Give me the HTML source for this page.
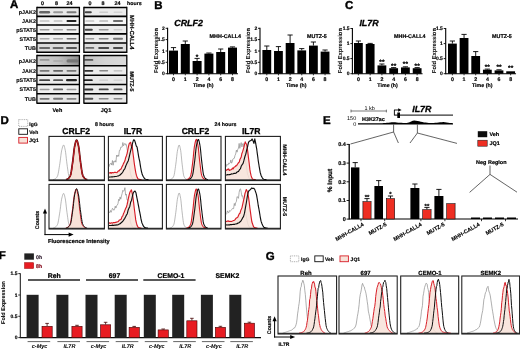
<!DOCTYPE html>
<html lang="en">
<head>
<meta charset="utf-8">
<title>Figure</title>
<style>
html,body{margin:0;padding:0;background:#fff;}
body{width:520px;height:349px;overflow:hidden;}
svg{display:block;font-family:"Liberation Sans", sans-serif;text-rendering:geometricPrecision;}
</style>
</head>
<body>
<svg width="520" height="349" viewBox="0 0 520 349">
<defs>
<filter id="soft" x="0" y="0" width="520" height="349" filterUnits="userSpaceOnUse"><feGaussianBlur stdDeviation="0.38"/></filter>
<filter id="bl" x="-20%" y="-100%" width="140%" height="300%"><feGaussianBlur stdDeviation="0.55 0.35"/></filter>
</defs>
<rect x="0" y="0" width="520" height="349" fill="#fff"/>
<g filter="url(#soft)">
<text x="0" y="0.0" transform="translate(10.00 8.20) scale(0.1)" font-size="115" font-weight="bold" text-anchor="start" fill="#000" stroke="#000" stroke-width="4.03">A</text>
<text x="0" y="19.3" transform="translate(42.60 3.30) scale(0.1)" font-size="54" font-weight="bold" text-anchor="middle" fill="#000" stroke="#000" stroke-width="1.89">0</text>
<text x="0" y="19.3" transform="translate(56.60 3.30) scale(0.1)" font-size="54" font-weight="bold" text-anchor="middle" fill="#000" stroke="#000" stroke-width="1.89">8</text>
<text x="0" y="19.3" transform="translate(69.60 3.30) scale(0.1)" font-size="54" font-weight="bold" text-anchor="middle" fill="#000" stroke="#000" stroke-width="1.89">24</text>
<text x="0" y="19.3" transform="translate(90.00 3.30) scale(0.1)" font-size="54" font-weight="bold" text-anchor="middle" fill="#000" stroke="#000" stroke-width="1.89">0</text>
<text x="0" y="19.3" transform="translate(103.00 3.30) scale(0.1)" font-size="54" font-weight="bold" text-anchor="middle" fill="#000" stroke="#000" stroke-width="1.89">8</text>
<text x="0" y="19.3" transform="translate(117.40 3.30) scale(0.1)" font-size="54" font-weight="bold" text-anchor="middle" fill="#000" stroke="#000" stroke-width="1.89">24</text>
<text x="0" y="19.0" transform="translate(127.00 3.30) scale(0.1)" font-size="53" font-weight="bold" text-anchor="start" fill="#000" stroke="#000" stroke-width="1.85">hours</text>
<text x="0" y="19.2" transform="translate(35.90 12.35) scale(0.1)" font-size="54" font-weight="bold" text-anchor="end" fill="#000" stroke="#000" stroke-width="1.07">pJAK2</text>
<text x="0" y="19.2" transform="translate(35.90 21.10) scale(0.1)" font-size="54" font-weight="bold" text-anchor="end" fill="#000" stroke="#000" stroke-width="1.07">JAK2</text>
<text x="0" y="19.2" transform="translate(35.90 29.85) scale(0.1)" font-size="54" font-weight="bold" text-anchor="end" fill="#000" stroke="#000" stroke-width="1.07">pSTAT5</text>
<text x="0" y="19.2" transform="translate(35.90 38.85) scale(0.1)" font-size="54" font-weight="bold" text-anchor="end" fill="#000" stroke="#000" stroke-width="1.07">STAT5</text>
<text x="0" y="19.2" transform="translate(35.90 48.55) scale(0.1)" font-size="54" font-weight="bold" text-anchor="end" fill="#000" stroke="#000" stroke-width="1.07">TUB</text>
<text x="0" y="19.2" transform="translate(35.90 61.05) scale(0.1)" font-size="54" font-weight="bold" text-anchor="end" fill="#000" stroke="#000" stroke-width="1.07">pJAK2</text>
<text x="0" y="19.2" transform="translate(35.90 70.90) scale(0.1)" font-size="54" font-weight="bold" text-anchor="end" fill="#000" stroke="#000" stroke-width="1.07">JAK2</text>
<text x="0" y="19.2" transform="translate(35.90 80.25) scale(0.1)" font-size="54" font-weight="bold" text-anchor="end" fill="#000" stroke="#000" stroke-width="1.07">pSTAT5</text>
<text x="0" y="19.2" transform="translate(35.90 89.55) scale(0.1)" font-size="54" font-weight="bold" text-anchor="end" fill="#000" stroke="#000" stroke-width="1.07">STAT5</text>
<text x="0" y="19.2" transform="translate(35.90 99.40) scale(0.1)" font-size="54" font-weight="bold" text-anchor="end" fill="#000" stroke="#000" stroke-width="1.07">TUB</text>
<text x="0" y="19.7" transform="translate(57.40 109.80) scale(0.1)" font-size="55" font-weight="bold" text-anchor="middle" fill="#000" stroke="#000" stroke-width="1.93">Veh</text>
<text x="0" y="19.7" transform="translate(106.00 109.80) scale(0.1)" font-size="55" font-weight="bold" text-anchor="middle" fill="#000" stroke="#000" stroke-width="1.93">JQ1</text>
<text x="0" y="21.1" transform="translate(132.40 32.30) rotate(90) scale(0.1)" font-size="59" font-weight="bold" text-anchor="middle" fill="#000" stroke="#000" stroke-width="2.07">MHH-CALL4</text>
<text x="0" y="19.3" transform="translate(131.80 81.50) rotate(90) scale(0.1)" font-size="54" font-weight="bold" text-anchor="middle" fill="#000" stroke="#000" stroke-width="1.89">MUTZ-5</text>
<g>
<rect x="36.90" y="7.50" width="42.50" height="8.90" fill="#e8e8e8"/>
<rect x="39.10" y="11.05" width="11" height="2.4" rx="1.2" fill="#666" filter="url(#bl)"/>
<rect x="53.10" y="11.25" width="10" height="2.0" rx="1.0" fill="#999" filter="url(#bl)"/>
<rect x="66.50" y="11.15" width="10" height="2.2" rx="1.1" fill="#7a7a7a" filter="url(#bl)"/>
<rect x="36.90" y="16.40" width="42.50" height="8.60" fill="#f5f5f5"/>
<rect x="39.60" y="20.40" width="10" height="1.2" rx="0.6" fill="#aaa" filter="url(#bl)"/>
<rect x="53.60" y="20.40" width="9" height="1.2" rx="0.6" fill="#aaa" filter="url(#bl)"/>
<rect x="66.50" y="20.10" width="10" height="1.8" rx="0.9" fill="#222" filter="url(#bl)"/>
<rect x="36.90" y="25.00" width="42.50" height="8.90" fill="#f1f1f1"/>
<rect x="39.60" y="29.05" width="10" height="1.4" rx="0.7" fill="#999" filter="url(#bl)"/>
<rect x="53.10" y="29.05" width="10" height="1.4" rx="0.7" fill="#aaa" filter="url(#bl)"/>
<rect x="66.50" y="29.00" width="10" height="1.5" rx="0.75" fill="#888" filter="url(#bl)"/>
<rect x="36.90" y="33.90" width="42.50" height="9.10" fill="#eeeeee"/>
<rect x="39.60" y="38.10" width="10" height="1.3" rx="0.65" fill="#aaa" filter="url(#bl)"/>
<rect x="53.10" y="38.10" width="10" height="1.3" rx="0.65" fill="#aaa" filter="url(#bl)"/>
<rect x="66.50" y="37.95" width="10" height="1.6" rx="0.8" fill="#777" filter="url(#bl)"/>
<rect x="36.90" y="43.00" width="42.50" height="9.30" fill="#dadada"/>
<rect x="39.10" y="47.00" width="11" height="1.9" rx="0.95" fill="#686868" filter="url(#bl)"/>
<rect x="52.60" y="47.00" width="11" height="1.9" rx="0.95" fill="#686868" filter="url(#bl)"/>
<rect x="66.00" y="46.90" width="11" height="2.1" rx="1.05" fill="#555" filter="url(#bl)"/>
<line x1="36.90" y1="7.50" x2="79.40" y2="7.50" stroke="#000" stroke-width="1.6"/>
<line x1="36.90" y1="16.40" x2="79.40" y2="16.40" stroke="#000" stroke-width="1.6"/>
<line x1="36.90" y1="25.00" x2="79.40" y2="25.00" stroke="#000" stroke-width="1.6"/>
<line x1="36.90" y1="33.90" x2="79.40" y2="33.90" stroke="#000" stroke-width="1.6"/>
<line x1="36.90" y1="43.00" x2="79.40" y2="43.00" stroke="#000" stroke-width="1.6"/>
<line x1="36.90" y1="52.30" x2="79.40" y2="52.30" stroke="#000" stroke-width="1.6"/>
<line x1="36.90" y1="6.85" x2="36.90" y2="52.95" stroke="#000" stroke-width="1.3"/>
<line x1="79.40" y1="6.85" x2="79.40" y2="52.95" stroke="#000" stroke-width="1.3"/>
</g>
<g>
<rect x="83.90" y="7.50" width="42.90" height="8.90" fill="#ebebeb"/>
<rect x="84.80" y="11.25" width="7" height="2.0" rx="1.0" fill="#444" filter="url(#bl)"/>
<rect x="99.20" y="11.50" width="9" height="1.5" rx="0.75" fill="#ccc" filter="url(#bl)"/>
<rect x="113.50" y="11.50" width="9" height="1.5" rx="0.75" fill="#d4d4d4" filter="url(#bl)"/>
<rect x="83.90" y="16.40" width="42.90" height="8.60" fill="#f6f6f6"/>
<rect x="85.30" y="20.45" width="9" height="1.1" rx="0.55" fill="#aaa" filter="url(#bl)"/>
<rect x="99.20" y="20.40" width="9" height="1.2" rx="0.6" fill="#999" filter="url(#bl)"/>
<rect x="113.00" y="20.20" width="10" height="1.6" rx="0.8" fill="#444" filter="url(#bl)"/>
<rect x="83.90" y="25.00" width="42.90" height="8.90" fill="#ececec"/>
<rect x="84.80" y="28.85" width="8" height="1.8" rx="0.9" fill="#444" filter="url(#bl)"/>
<rect x="98.70" y="29.00" width="10" height="1.5" rx="0.75" fill="#999" filter="url(#bl)"/>
<rect x="113.50" y="29.05" width="9" height="1.4" rx="0.7" fill="#ccc" filter="url(#bl)"/>
<rect x="83.90" y="33.90" width="42.90" height="9.10" fill="#ececec"/>
<rect x="85.30" y="38.10" width="9" height="1.3" rx="0.65" fill="#999" filter="url(#bl)"/>
<rect x="98.70" y="38.00" width="10" height="1.5" rx="0.75" fill="#888" filter="url(#bl)"/>
<rect x="113.00" y="37.85" width="10" height="1.8" rx="0.9" fill="#777" filter="url(#bl)"/>
<rect x="83.90" y="43.00" width="42.90" height="9.30" fill="#dedede"/>
<rect x="85.30" y="47.10" width="9" height="1.7" rx="0.85" fill="#686868" filter="url(#bl)"/>
<rect x="98.20" y="47.00" width="11" height="1.9" rx="0.95" fill="#484848" filter="url(#bl)"/>
<rect x="113.00" y="47.00" width="10" height="1.9" rx="0.95" fill="#484848" filter="url(#bl)"/>
<line x1="83.90" y1="7.50" x2="126.80" y2="7.50" stroke="#000" stroke-width="1.6"/>
<line x1="83.90" y1="16.40" x2="126.80" y2="16.40" stroke="#000" stroke-width="1.6"/>
<line x1="83.90" y1="25.00" x2="126.80" y2="25.00" stroke="#000" stroke-width="1.6"/>
<line x1="83.90" y1="33.90" x2="126.80" y2="33.90" stroke="#000" stroke-width="1.6"/>
<line x1="83.90" y1="43.00" x2="126.80" y2="43.00" stroke="#000" stroke-width="1.6"/>
<line x1="83.90" y1="52.30" x2="126.80" y2="52.30" stroke="#000" stroke-width="1.6"/>
<line x1="83.90" y1="6.85" x2="83.90" y2="52.95" stroke="#000" stroke-width="1.3"/>
<line x1="126.80" y1="6.85" x2="126.80" y2="52.95" stroke="#000" stroke-width="1.3"/>
</g>
<g>
<linearGradient id="g36_55" x1="0" x2="1" y1="0" y2="0"><stop offset="0" stop-color="#cfcfcf"/><stop offset="0.5" stop-color="#c2c2c2"/><stop offset="1" stop-color="#8e8e8e"/></linearGradient>
<rect x="36.90" y="55.50" width="42.50" height="10.30" fill="url(#g36_55)"/>
<rect x="39.60" y="59.05" width="10" height="1.8" rx="0.9" fill="#999" filter="url(#bl)"/>
<rect x="53.10" y="60.15" width="10" height="1.6" rx="0.8" fill="#aaa" filter="url(#bl)"/>
<rect x="66.50" y="59.35" width="12" height="3.2" rx="1.6" fill="#777" filter="url(#bl)"/>
<rect x="36.90" y="65.80" width="42.50" height="9.40" fill="#dedede"/>
<rect x="39.60" y="69.90" width="10" height="1.8" rx="0.9" fill="#777" filter="url(#bl)"/>
<rect x="53.10" y="69.90" width="10" height="1.8" rx="0.9" fill="#666" filter="url(#bl)"/>
<rect x="66.50" y="69.90" width="10" height="1.8" rx="0.9" fill="#777" filter="url(#bl)"/>
<rect x="36.90" y="75.20" width="42.50" height="9.30" fill="#ececec"/>
<rect x="39.10" y="79.20" width="11" height="1.9" rx="0.95" fill="#444" filter="url(#bl)"/>
<rect x="53.10" y="79.25" width="10" height="1.8" rx="0.9" fill="#555" filter="url(#bl)"/>
<rect x="66.00" y="79.05" width="11" height="2.2" rx="1.1" fill="#222" filter="url(#bl)"/>
<rect x="36.90" y="84.50" width="42.50" height="9.30" fill="#f0f0f0"/>
<rect x="39.60" y="88.75" width="10" height="1.4" rx="0.7" fill="#999" filter="url(#bl)"/>
<rect x="53.10" y="88.60" width="10" height="1.7" rx="0.85" fill="#666" filter="url(#bl)"/>
<rect x="66.50" y="88.75" width="10" height="1.4" rx="0.7" fill="#999" filter="url(#bl)"/>
<rect x="36.90" y="93.80" width="42.50" height="9.40" fill="#e6e6e6"/>
<rect x="39.60" y="97.95" width="10" height="1.7" rx="0.85" fill="#777" filter="url(#bl)"/>
<rect x="53.10" y="97.85" width="10" height="1.9" rx="0.95" fill="#777" filter="url(#bl)"/>
<rect x="66.50" y="97.95" width="10" height="1.7" rx="0.85" fill="#888" filter="url(#bl)"/>
<line x1="36.90" y1="55.50" x2="79.40" y2="55.50" stroke="#000" stroke-width="1.6"/>
<line x1="36.90" y1="65.80" x2="79.40" y2="65.80" stroke="#000" stroke-width="1.6"/>
<line x1="36.90" y1="75.20" x2="79.40" y2="75.20" stroke="#000" stroke-width="1.6"/>
<line x1="36.90" y1="84.50" x2="79.40" y2="84.50" stroke="#000" stroke-width="1.6"/>
<line x1="36.90" y1="93.80" x2="79.40" y2="93.80" stroke="#000" stroke-width="1.6"/>
<line x1="36.90" y1="103.20" x2="79.40" y2="103.20" stroke="#000" stroke-width="1.6"/>
<line x1="36.90" y1="54.85" x2="36.90" y2="103.85" stroke="#000" stroke-width="1.3"/>
<line x1="79.40" y1="54.85" x2="79.40" y2="103.85" stroke="#000" stroke-width="1.3"/>
</g>
<g>
<linearGradient id="g83_55" x1="0" x2="1" y1="0" y2="0"><stop offset="0" stop-color="#c4c4c4"/><stop offset="0.5" stop-color="#d4d4d4"/><stop offset="1" stop-color="#dadada"/></linearGradient>
<rect x="83.90" y="55.50" width="42.90" height="10.30" fill="url(#g83_55)"/>
<rect x="84.30" y="59.05" width="9" height="1.8" rx="0.9" fill="#555" filter="url(#bl)"/>
<rect x="83.90" y="65.80" width="42.90" height="9.40" fill="#ececec"/>
<rect x="84.30" y="69.90" width="9" height="1.8" rx="0.9" fill="#333" filter="url(#bl)"/>
<rect x="99.20" y="70.05" width="9" height="1.5" rx="0.75" fill="#888" filter="url(#bl)"/>
<rect x="113.50" y="70.15" width="9" height="1.3" rx="0.65" fill="#bbb" filter="url(#bl)"/>
<rect x="83.90" y="75.20" width="42.90" height="9.30" fill="#e8e8e8"/>
<rect x="83.80" y="79.20" width="9" height="1.9" rx="0.95" fill="#222" filter="url(#bl)"/>
<rect x="99.20" y="79.50" width="9" height="1.3" rx="0.65" fill="#ccc" filter="url(#bl)"/>
<rect x="113.50" y="79.50" width="9" height="1.3" rx="0.65" fill="#d0d0d0" filter="url(#bl)"/>
<rect x="83.90" y="84.50" width="42.90" height="9.30" fill="#ececec"/>
<rect x="84.30" y="88.50" width="9" height="1.9" rx="0.95" fill="#333" filter="url(#bl)"/>
<rect x="98.70" y="88.55" width="10" height="1.8" rx="0.9" fill="#444" filter="url(#bl)"/>
<rect x="113.50" y="88.60" width="9" height="1.7" rx="0.85" fill="#555" filter="url(#bl)"/>
<rect x="83.90" y="93.80" width="42.90" height="9.40" fill="#e8e8e8"/>
<rect x="84.30" y="97.85" width="9" height="1.9" rx="0.95" fill="#555" filter="url(#bl)"/>
<rect x="98.70" y="98.00" width="10" height="1.6" rx="0.8" fill="#888" filter="url(#bl)"/>
<rect x="113.50" y="98.00" width="9" height="1.6" rx="0.8" fill="#888" filter="url(#bl)"/>
<line x1="83.90" y1="55.50" x2="126.80" y2="55.50" stroke="#000" stroke-width="1.6"/>
<line x1="83.90" y1="65.80" x2="126.80" y2="65.80" stroke="#000" stroke-width="1.6"/>
<line x1="83.90" y1="75.20" x2="126.80" y2="75.20" stroke="#000" stroke-width="1.6"/>
<line x1="83.90" y1="84.50" x2="126.80" y2="84.50" stroke="#000" stroke-width="1.6"/>
<line x1="83.90" y1="93.80" x2="126.80" y2="93.80" stroke="#000" stroke-width="1.6"/>
<line x1="83.90" y1="103.20" x2="126.80" y2="103.20" stroke="#000" stroke-width="1.6"/>
<line x1="83.90" y1="54.85" x2="83.90" y2="103.85" stroke="#000" stroke-width="1.3"/>
<line x1="126.80" y1="54.85" x2="126.80" y2="103.85" stroke="#000" stroke-width="1.3"/>
</g>
<text x="0" y="0.0" transform="translate(154.30 9.00) scale(0.1)" font-size="115" font-weight="bold" text-anchor="start" fill="#000" stroke="#000" stroke-width="4.03">B</text>
<text x="0" y="0.0" transform="translate(174.20 25.70) scale(0.1)" font-size="89" font-weight="bold" font-style="italic" text-anchor="start" fill="#000" stroke="#000" stroke-width="3.12">CRLF2</text>
<line x1="167.60" y1="27.80" x2="167.60" y2="74.20" stroke="#000" stroke-width="1.1"/>
<line x1="165.60" y1="73.70" x2="167.60" y2="73.70" stroke="#000" stroke-width="0.9"/>
<text x="0" y="17.9" transform="translate(164.80 73.70) scale(0.1)" font-size="50" font-weight="bold" text-anchor="end" fill="#000" stroke="#000" stroke-width="1.75">0</text>
<line x1="165.60" y1="62.30" x2="167.60" y2="62.30" stroke="#000" stroke-width="0.9"/>
<text x="0" y="17.9" transform="translate(164.80 62.30) scale(0.1)" font-size="50" font-weight="bold" text-anchor="end" fill="#000" stroke="#000" stroke-width="1.75">0.5</text>
<line x1="165.60" y1="51.00" x2="167.60" y2="51.00" stroke="#000" stroke-width="0.9"/>
<text x="0" y="17.9" transform="translate(164.80 51.00) scale(0.1)" font-size="50" font-weight="bold" text-anchor="end" fill="#000" stroke="#000" stroke-width="1.75">1</text>
<line x1="165.60" y1="39.60" x2="167.60" y2="39.60" stroke="#000" stroke-width="0.9"/>
<text x="0" y="17.9" transform="translate(164.80 39.60) scale(0.1)" font-size="50" font-weight="bold" text-anchor="end" fill="#000" stroke="#000" stroke-width="1.75">1.5</text>
<line x1="165.60" y1="28.30" x2="167.60" y2="28.30" stroke="#000" stroke-width="0.9"/>
<text x="0" y="17.9" transform="translate(164.80 28.30) scale(0.1)" font-size="50" font-weight="bold" text-anchor="end" fill="#000" stroke="#000" stroke-width="1.75">2</text>
<line x1="167.60" y1="73.70" x2="238.00" y2="73.70" stroke="#000" stroke-width="1.1"/>
<rect x="169.00" y="50.60" width="9.00" height="23.10" fill="#000"/>
<line x1="173.50" y1="47.60" x2="173.50" y2="50.60" stroke="#000" stroke-width="0.9"/>
<line x1="170.90" y1="47.60" x2="176.10" y2="47.60" stroke="#000" stroke-width="0.9"/>
<line x1="173.50" y1="73.70" x2="173.50" y2="75.30" stroke="#000" stroke-width="0.8"/>
<text x="0" y="19.0" transform="translate(173.50 78.70) scale(0.1)" font-size="53" font-weight="bold" text-anchor="middle" fill="#000" stroke="#000" stroke-width="1.85">0</text>
<rect x="180.80" y="44.00" width="9.00" height="29.70" fill="#000"/>
<line x1="185.30" y1="41.00" x2="185.30" y2="44.00" stroke="#000" stroke-width="0.9"/>
<line x1="182.70" y1="41.00" x2="187.90" y2="41.00" stroke="#000" stroke-width="0.9"/>
<line x1="185.30" y1="73.70" x2="185.30" y2="75.30" stroke="#000" stroke-width="0.8"/>
<text x="0" y="19.0" transform="translate(185.30 78.70) scale(0.1)" font-size="53" font-weight="bold" text-anchor="middle" fill="#000" stroke="#000" stroke-width="1.85">1</text>
<rect x="192.60" y="61.00" width="9.00" height="12.70" fill="#000"/>
<line x1="197.10" y1="58.40" x2="197.10" y2="61.00" stroke="#000" stroke-width="0.9"/>
<line x1="194.50" y1="58.40" x2="199.70" y2="58.40" stroke="#000" stroke-width="0.9"/>
<text x="0" y="23.3" transform="translate(197.10 56.30) scale(0.1)" font-size="65" font-weight="bold" text-anchor="middle" fill="#000" stroke="#000" stroke-width="2.28">*</text>
<line x1="197.10" y1="73.70" x2="197.10" y2="75.30" stroke="#000" stroke-width="0.8"/>
<text x="0" y="19.0" transform="translate(197.10 78.70) scale(0.1)" font-size="53" font-weight="bold" text-anchor="middle" fill="#000" stroke="#000" stroke-width="1.85">2</text>
<rect x="204.40" y="53.60" width="9.00" height="20.10" fill="#000"/>
<line x1="208.90" y1="53.00" x2="208.90" y2="53.60" stroke="#000" stroke-width="0.9"/>
<line x1="206.30" y1="53.00" x2="211.50" y2="53.00" stroke="#000" stroke-width="0.9"/>
<line x1="208.90" y1="73.70" x2="208.90" y2="75.30" stroke="#000" stroke-width="0.8"/>
<text x="0" y="19.0" transform="translate(208.90 78.70) scale(0.1)" font-size="53" font-weight="bold" text-anchor="middle" fill="#000" stroke="#000" stroke-width="1.85">4</text>
<rect x="216.20" y="52.00" width="9.00" height="21.70" fill="#000"/>
<line x1="220.70" y1="49.00" x2="220.70" y2="52.00" stroke="#000" stroke-width="0.9"/>
<line x1="218.10" y1="49.00" x2="223.30" y2="49.00" stroke="#000" stroke-width="0.9"/>
<line x1="220.70" y1="73.70" x2="220.70" y2="75.30" stroke="#000" stroke-width="0.8"/>
<text x="0" y="19.0" transform="translate(220.70 78.70) scale(0.1)" font-size="53" font-weight="bold" text-anchor="middle" fill="#000" stroke="#000" stroke-width="1.85">6</text>
<rect x="228.00" y="47.60" width="9.00" height="26.10" fill="#000"/>
<line x1="232.50" y1="46.90" x2="232.50" y2="47.60" stroke="#000" stroke-width="0.9"/>
<line x1="229.90" y1="46.90" x2="235.10" y2="46.90" stroke="#000" stroke-width="0.9"/>
<line x1="232.50" y1="73.70" x2="232.50" y2="75.30" stroke="#000" stroke-width="0.8"/>
<text x="0" y="19.0" transform="translate(232.50 78.70) scale(0.1)" font-size="53" font-weight="bold" text-anchor="middle" fill="#000" stroke="#000" stroke-width="1.85">8</text>
<text x="0" y="19.0" transform="translate(203.20 85.50) scale(0.1)" font-size="53" font-weight="bold" text-anchor="middle" fill="#000" stroke="#000" stroke-width="1.85">Time (h)</text>
<text x="0" y="19.3" transform="translate(209.60 35.90) scale(0.1)" font-size="54" font-weight="bold" text-anchor="start" fill="#000" stroke="#000" stroke-width="1.89">MHH-CALL4</text>
<text x="0" y="20.6" transform="translate(156.40 50.50) rotate(-90) scale(0.1)" font-size="58" font-weight="bold" text-anchor="middle" fill="#000" stroke="#000" stroke-width="0.58">Fold Expression</text>
<line x1="260.00" y1="27.80" x2="260.00" y2="74.20" stroke="#000" stroke-width="1.1"/>
<line x1="258.00" y1="73.70" x2="260.00" y2="73.70" stroke="#000" stroke-width="0.9"/>
<text x="0" y="17.9" transform="translate(257.20 73.70) scale(0.1)" font-size="50" font-weight="bold" text-anchor="end" fill="#000" stroke="#000" stroke-width="1.75">0</text>
<line x1="258.00" y1="62.30" x2="260.00" y2="62.30" stroke="#000" stroke-width="0.9"/>
<text x="0" y="17.9" transform="translate(257.20 62.30) scale(0.1)" font-size="50" font-weight="bold" text-anchor="end" fill="#000" stroke="#000" stroke-width="1.75">0.5</text>
<line x1="258.00" y1="51.00" x2="260.00" y2="51.00" stroke="#000" stroke-width="0.9"/>
<text x="0" y="17.9" transform="translate(257.20 51.00) scale(0.1)" font-size="50" font-weight="bold" text-anchor="end" fill="#000" stroke="#000" stroke-width="1.75">1</text>
<line x1="258.00" y1="39.60" x2="260.00" y2="39.60" stroke="#000" stroke-width="0.9"/>
<text x="0" y="17.9" transform="translate(257.20 39.60) scale(0.1)" font-size="50" font-weight="bold" text-anchor="end" fill="#000" stroke="#000" stroke-width="1.75">1.5</text>
<line x1="258.00" y1="28.30" x2="260.00" y2="28.30" stroke="#000" stroke-width="0.9"/>
<text x="0" y="17.9" transform="translate(257.20 28.30) scale(0.1)" font-size="50" font-weight="bold" text-anchor="end" fill="#000" stroke="#000" stroke-width="1.75">2</text>
<line x1="260.00" y1="73.70" x2="330.45" y2="73.70" stroke="#000" stroke-width="1.1"/>
<rect x="262.40" y="50.00" width="8.80" height="23.70" fill="#000"/>
<line x1="266.80" y1="46.00" x2="266.80" y2="50.00" stroke="#000" stroke-width="0.9"/>
<line x1="264.20" y1="46.00" x2="269.40" y2="46.00" stroke="#000" stroke-width="0.9"/>
<line x1="266.80" y1="73.70" x2="266.80" y2="75.30" stroke="#000" stroke-width="0.8"/>
<text x="0" y="19.0" transform="translate(266.80 78.70) scale(0.1)" font-size="53" font-weight="bold" text-anchor="middle" fill="#000" stroke="#000" stroke-width="1.85">0</text>
<rect x="274.05" y="51.00" width="8.80" height="22.70" fill="#000"/>
<line x1="278.45" y1="46.60" x2="278.45" y2="51.00" stroke="#000" stroke-width="0.9"/>
<line x1="275.85" y1="46.60" x2="281.05" y2="46.60" stroke="#000" stroke-width="0.9"/>
<line x1="278.45" y1="73.70" x2="278.45" y2="75.30" stroke="#000" stroke-width="0.8"/>
<text x="0" y="19.0" transform="translate(278.45 78.70) scale(0.1)" font-size="53" font-weight="bold" text-anchor="middle" fill="#000" stroke="#000" stroke-width="1.85">1</text>
<rect x="285.70" y="43.00" width="8.80" height="30.70" fill="#000"/>
<line x1="290.10" y1="35.00" x2="290.10" y2="43.00" stroke="#000" stroke-width="0.9"/>
<line x1="287.50" y1="35.00" x2="292.70" y2="35.00" stroke="#000" stroke-width="0.9"/>
<line x1="290.10" y1="73.70" x2="290.10" y2="75.30" stroke="#000" stroke-width="0.8"/>
<text x="0" y="19.0" transform="translate(290.10 78.70) scale(0.1)" font-size="53" font-weight="bold" text-anchor="middle" fill="#000" stroke="#000" stroke-width="1.85">2</text>
<rect x="297.35" y="50.40" width="8.80" height="23.30" fill="#000"/>
<line x1="301.75" y1="48.60" x2="301.75" y2="50.40" stroke="#000" stroke-width="0.9"/>
<line x1="299.15" y1="48.60" x2="304.35" y2="48.60" stroke="#000" stroke-width="0.9"/>
<line x1="301.75" y1="73.70" x2="301.75" y2="75.30" stroke="#000" stroke-width="0.8"/>
<text x="0" y="19.0" transform="translate(301.75 78.70) scale(0.1)" font-size="53" font-weight="bold" text-anchor="middle" fill="#000" stroke="#000" stroke-width="1.85">4</text>
<rect x="309.00" y="45.60" width="8.80" height="28.10" fill="#000"/>
<line x1="313.40" y1="42.00" x2="313.40" y2="45.60" stroke="#000" stroke-width="0.9"/>
<line x1="310.80" y1="42.00" x2="316.00" y2="42.00" stroke="#000" stroke-width="0.9"/>
<line x1="313.40" y1="73.70" x2="313.40" y2="75.30" stroke="#000" stroke-width="0.8"/>
<text x="0" y="19.0" transform="translate(313.40 78.70) scale(0.1)" font-size="53" font-weight="bold" text-anchor="middle" fill="#000" stroke="#000" stroke-width="1.85">6</text>
<rect x="320.65" y="51.60" width="8.80" height="22.10" fill="#000"/>
<line x1="325.05" y1="50.00" x2="325.05" y2="51.60" stroke="#000" stroke-width="0.9"/>
<line x1="322.45" y1="50.00" x2="327.65" y2="50.00" stroke="#000" stroke-width="0.9"/>
<line x1="325.05" y1="73.70" x2="325.05" y2="75.30" stroke="#000" stroke-width="0.8"/>
<text x="0" y="19.0" transform="translate(325.05 78.70) scale(0.1)" font-size="53" font-weight="bold" text-anchor="middle" fill="#000" stroke="#000" stroke-width="1.85">8</text>
<text x="0" y="19.0" transform="translate(296.20 85.50) scale(0.1)" font-size="53" font-weight="bold" text-anchor="middle" fill="#000" stroke="#000" stroke-width="1.85">Time (h)</text>
<text x="0" y="19.3" transform="translate(307.00 35.90) scale(0.1)" font-size="54" font-weight="bold" text-anchor="start" fill="#000" stroke="#000" stroke-width="1.89">MUTZ-5</text>
<text x="0" y="20.6" transform="translate(247.60 50.50) rotate(-90) scale(0.1)" font-size="58" font-weight="bold" text-anchor="middle" fill="#000" stroke="#000" stroke-width="0.58">Fold Expression</text>
<text x="0" y="0.0" transform="translate(345.00 9.00) scale(0.1)" font-size="115" font-weight="bold" text-anchor="start" fill="#000" stroke="#000" stroke-width="4.03">C</text>
<text x="0" y="0.0" transform="translate(359.40 25.70) scale(0.1)" font-size="89" font-weight="bold" font-style="italic" text-anchor="start" fill="#000" stroke="#000" stroke-width="3.12">IL7R</text>
<line x1="352.40" y1="28.00" x2="352.40" y2="74.20" stroke="#000" stroke-width="1.1"/>
<line x1="350.40" y1="73.70" x2="352.40" y2="73.70" stroke="#000" stroke-width="0.9"/>
<text x="0" y="17.9" transform="translate(349.60 73.70) scale(0.1)" font-size="50" font-weight="bold" text-anchor="end" fill="#000" stroke="#000" stroke-width="1.75">0</text>
<line x1="350.40" y1="58.60" x2="352.40" y2="58.60" stroke="#000" stroke-width="0.9"/>
<text x="0" y="17.9" transform="translate(349.60 58.60) scale(0.1)" font-size="50" font-weight="bold" text-anchor="end" fill="#000" stroke="#000" stroke-width="1.75">0.5</text>
<line x1="350.40" y1="43.60" x2="352.40" y2="43.60" stroke="#000" stroke-width="0.9"/>
<text x="0" y="17.9" transform="translate(349.60 43.60) scale(0.1)" font-size="50" font-weight="bold" text-anchor="end" fill="#000" stroke="#000" stroke-width="1.75">1</text>
<line x1="350.40" y1="28.50" x2="352.40" y2="28.50" stroke="#000" stroke-width="0.9"/>
<text x="0" y="17.9" transform="translate(349.60 28.50) scale(0.1)" font-size="50" font-weight="bold" text-anchor="end" fill="#000" stroke="#000" stroke-width="1.75">1.5</text>
<line x1="352.40" y1="73.70" x2="422.55" y2="73.70" stroke="#000" stroke-width="1.1"/>
<rect x="354.00" y="43.00" width="8.80" height="30.70" fill="#000"/>
<line x1="358.40" y1="41.00" x2="358.40" y2="43.00" stroke="#000" stroke-width="0.9"/>
<line x1="355.80" y1="41.00" x2="361.00" y2="41.00" stroke="#000" stroke-width="0.9"/>
<line x1="358.40" y1="73.70" x2="358.40" y2="75.30" stroke="#000" stroke-width="0.8"/>
<text x="0" y="19.0" transform="translate(358.40 78.70) scale(0.1)" font-size="53" font-weight="bold" text-anchor="middle" fill="#000" stroke="#000" stroke-width="1.85">0</text>
<rect x="365.75" y="44.00" width="8.80" height="29.70" fill="#000"/>
<line x1="370.15" y1="43.40" x2="370.15" y2="44.00" stroke="#000" stroke-width="0.9"/>
<line x1="367.55" y1="43.40" x2="372.75" y2="43.40" stroke="#000" stroke-width="0.9"/>
<line x1="370.15" y1="73.70" x2="370.15" y2="75.30" stroke="#000" stroke-width="0.8"/>
<text x="0" y="19.0" transform="translate(370.15 78.70) scale(0.1)" font-size="53" font-weight="bold" text-anchor="middle" fill="#000" stroke="#000" stroke-width="1.85">1</text>
<rect x="377.50" y="65.40" width="8.80" height="8.30" fill="#000"/>
<line x1="381.90" y1="64.00" x2="381.90" y2="65.40" stroke="#000" stroke-width="0.9"/>
<line x1="379.30" y1="64.00" x2="384.50" y2="64.00" stroke="#000" stroke-width="0.9"/>
<text x="0" y="23.3" transform="translate(381.90 61.30) scale(0.1)" font-size="65" font-weight="bold" text-anchor="middle" fill="#000" stroke="#000" stroke-width="2.28">**</text>
<line x1="381.90" y1="73.70" x2="381.90" y2="75.30" stroke="#000" stroke-width="0.8"/>
<text x="0" y="19.0" transform="translate(381.90 78.70) scale(0.1)" font-size="53" font-weight="bold" text-anchor="middle" fill="#000" stroke="#000" stroke-width="1.85">2</text>
<rect x="389.25" y="68.20" width="8.80" height="5.50" fill="#000"/>
<line x1="393.65" y1="67.60" x2="393.65" y2="68.20" stroke="#000" stroke-width="0.9"/>
<line x1="391.05" y1="67.60" x2="396.25" y2="67.60" stroke="#000" stroke-width="0.9"/>
<text x="0" y="23.3" transform="translate(393.65 65.70) scale(0.1)" font-size="65" font-weight="bold" text-anchor="middle" fill="#000" stroke="#000" stroke-width="2.28">**</text>
<line x1="393.65" y1="73.70" x2="393.65" y2="75.30" stroke="#000" stroke-width="0.8"/>
<text x="0" y="19.0" transform="translate(393.65 78.70) scale(0.1)" font-size="53" font-weight="bold" text-anchor="middle" fill="#000" stroke="#000" stroke-width="1.85">4</text>
<rect x="401.00" y="67.40" width="8.80" height="6.30" fill="#000"/>
<line x1="405.40" y1="66.80" x2="405.40" y2="67.40" stroke="#000" stroke-width="0.9"/>
<line x1="402.80" y1="66.80" x2="408.00" y2="66.80" stroke="#000" stroke-width="0.9"/>
<text x="0" y="23.3" transform="translate(405.40 63.90) scale(0.1)" font-size="65" font-weight="bold" text-anchor="middle" fill="#000" stroke="#000" stroke-width="2.28">**</text>
<line x1="405.40" y1="73.70" x2="405.40" y2="75.30" stroke="#000" stroke-width="0.8"/>
<text x="0" y="19.0" transform="translate(405.40 78.70) scale(0.1)" font-size="53" font-weight="bold" text-anchor="middle" fill="#000" stroke="#000" stroke-width="1.85">6</text>
<rect x="412.75" y="68.20" width="8.80" height="5.50" fill="#000"/>
<line x1="417.15" y1="67.60" x2="417.15" y2="68.20" stroke="#000" stroke-width="0.9"/>
<line x1="414.55" y1="67.60" x2="419.75" y2="67.60" stroke="#000" stroke-width="0.9"/>
<text x="0" y="23.3" transform="translate(417.15 65.70) scale(0.1)" font-size="65" font-weight="bold" text-anchor="middle" fill="#000" stroke="#000" stroke-width="2.28">**</text>
<line x1="417.15" y1="73.70" x2="417.15" y2="75.30" stroke="#000" stroke-width="0.8"/>
<text x="0" y="19.0" transform="translate(417.15 78.70) scale(0.1)" font-size="53" font-weight="bold" text-anchor="middle" fill="#000" stroke="#000" stroke-width="1.85">8</text>
<text x="0" y="19.0" transform="translate(387.60 85.50) scale(0.1)" font-size="53" font-weight="bold" text-anchor="middle" fill="#000" stroke="#000" stroke-width="1.85">Time (h)</text>
<text x="0" y="19.3" transform="translate(394.00 35.90) scale(0.1)" font-size="54" font-weight="bold" text-anchor="start" fill="#000" stroke="#000" stroke-width="1.89">MHH-CALL4</text>
<text x="0" y="20.6" transform="translate(340.40 50.60) rotate(-90) scale(0.1)" font-size="58" font-weight="bold" text-anchor="middle" fill="#000" stroke="#000" stroke-width="0.58">Fold Expression</text>
<line x1="445.70" y1="28.00" x2="445.70" y2="74.20" stroke="#000" stroke-width="1.1"/>
<line x1="443.70" y1="73.70" x2="445.70" y2="73.70" stroke="#000" stroke-width="0.9"/>
<text x="0" y="17.9" transform="translate(442.90 73.70) scale(0.1)" font-size="50" font-weight="bold" text-anchor="end" fill="#000" stroke="#000" stroke-width="1.75">0</text>
<line x1="443.70" y1="58.60" x2="445.70" y2="58.60" stroke="#000" stroke-width="0.9"/>
<text x="0" y="17.9" transform="translate(442.90 58.60) scale(0.1)" font-size="50" font-weight="bold" text-anchor="end" fill="#000" stroke="#000" stroke-width="1.75">0.5</text>
<line x1="443.70" y1="43.60" x2="445.70" y2="43.60" stroke="#000" stroke-width="0.9"/>
<text x="0" y="17.9" transform="translate(442.90 43.60) scale(0.1)" font-size="50" font-weight="bold" text-anchor="end" fill="#000" stroke="#000" stroke-width="1.75">1</text>
<line x1="443.70" y1="28.50" x2="445.70" y2="28.50" stroke="#000" stroke-width="0.9"/>
<text x="0" y="17.9" transform="translate(442.90 28.50) scale(0.1)" font-size="50" font-weight="bold" text-anchor="end" fill="#000" stroke="#000" stroke-width="1.75">1.5</text>
<line x1="445.70" y1="73.70" x2="516.05" y2="73.70" stroke="#000" stroke-width="1.1"/>
<rect x="448.00" y="43.60" width="8.80" height="30.10" fill="#000"/>
<line x1="452.40" y1="41.00" x2="452.40" y2="43.60" stroke="#000" stroke-width="0.9"/>
<line x1="449.80" y1="41.00" x2="455.00" y2="41.00" stroke="#000" stroke-width="0.9"/>
<line x1="452.40" y1="73.70" x2="452.40" y2="75.30" stroke="#000" stroke-width="0.8"/>
<text x="0" y="19.0" transform="translate(452.40 78.70) scale(0.1)" font-size="53" font-weight="bold" text-anchor="middle" fill="#000" stroke="#000" stroke-width="1.85">0</text>
<rect x="459.65" y="38.00" width="8.80" height="35.70" fill="#000"/>
<line x1="464.05" y1="34.40" x2="464.05" y2="38.00" stroke="#000" stroke-width="0.9"/>
<line x1="461.45" y1="34.40" x2="466.65" y2="34.40" stroke="#000" stroke-width="0.9"/>
<line x1="464.05" y1="73.70" x2="464.05" y2="75.30" stroke="#000" stroke-width="0.8"/>
<text x="0" y="19.0" transform="translate(464.05 78.70) scale(0.1)" font-size="53" font-weight="bold" text-anchor="middle" fill="#000" stroke="#000" stroke-width="1.85">1</text>
<rect x="471.30" y="56.00" width="8.80" height="17.70" fill="#000"/>
<line x1="475.70" y1="51.60" x2="475.70" y2="56.00" stroke="#000" stroke-width="0.9"/>
<line x1="473.10" y1="51.60" x2="478.30" y2="51.60" stroke="#000" stroke-width="0.9"/>
<line x1="475.70" y1="73.70" x2="475.70" y2="75.30" stroke="#000" stroke-width="0.8"/>
<text x="0" y="19.0" transform="translate(475.70 78.70) scale(0.1)" font-size="53" font-weight="bold" text-anchor="middle" fill="#000" stroke="#000" stroke-width="1.85">2</text>
<rect x="482.95" y="69.70" width="8.80" height="4.00" fill="#000"/>
<line x1="487.35" y1="69.10" x2="487.35" y2="69.70" stroke="#000" stroke-width="0.9"/>
<line x1="484.75" y1="69.10" x2="489.95" y2="69.10" stroke="#000" stroke-width="0.9"/>
<text x="0" y="23.3" transform="translate(487.35 66.70) scale(0.1)" font-size="65" font-weight="bold" text-anchor="middle" fill="#000" stroke="#000" stroke-width="2.28">**</text>
<line x1="487.35" y1="73.70" x2="487.35" y2="75.30" stroke="#000" stroke-width="0.8"/>
<text x="0" y="19.0" transform="translate(487.35 78.70) scale(0.1)" font-size="53" font-weight="bold" text-anchor="middle" fill="#000" stroke="#000" stroke-width="1.85">4</text>
<rect x="494.60" y="70.40" width="8.80" height="3.30" fill="#000"/>
<line x1="499.00" y1="69.80" x2="499.00" y2="70.40" stroke="#000" stroke-width="0.9"/>
<line x1="496.40" y1="69.80" x2="501.60" y2="69.80" stroke="#000" stroke-width="0.9"/>
<text x="0" y="23.3" transform="translate(499.00 66.70) scale(0.1)" font-size="65" font-weight="bold" text-anchor="middle" fill="#000" stroke="#000" stroke-width="2.28">**</text>
<line x1="499.00" y1="73.70" x2="499.00" y2="75.30" stroke="#000" stroke-width="0.8"/>
<text x="0" y="19.0" transform="translate(499.00 78.70) scale(0.1)" font-size="53" font-weight="bold" text-anchor="middle" fill="#000" stroke="#000" stroke-width="1.85">6</text>
<rect x="506.25" y="71.30" width="8.80" height="2.40" fill="#000"/>
<text x="0" y="23.3" transform="translate(510.65 67.90) scale(0.1)" font-size="65" font-weight="bold" text-anchor="middle" fill="#000" stroke="#000" stroke-width="2.28">**</text>
<line x1="510.65" y1="73.70" x2="510.65" y2="75.30" stroke="#000" stroke-width="0.8"/>
<text x="0" y="19.0" transform="translate(510.65 78.70) scale(0.1)" font-size="53" font-weight="bold" text-anchor="middle" fill="#000" stroke="#000" stroke-width="1.85">8</text>
<text x="0" y="19.0" transform="translate(482.20 85.50) scale(0.1)" font-size="53" font-weight="bold" text-anchor="middle" fill="#000" stroke="#000" stroke-width="1.85">Time (h)</text>
<text x="0" y="19.3" transform="translate(492.00 35.90) scale(0.1)" font-size="54" font-weight="bold" text-anchor="start" fill="#000" stroke="#000" stroke-width="1.89">MUTZ-5</text>
<text x="0" y="20.6" transform="translate(433.60 50.60) rotate(-90) scale(0.1)" font-size="58" font-weight="bold" text-anchor="middle" fill="#000" stroke="#000" stroke-width="0.58">Fold Expression</text>
<text x="0" y="0.0" transform="translate(0.40 123.60) scale(0.1)" font-size="115" font-weight="bold" text-anchor="start" fill="#000" stroke="#000" stroke-width="4.03">D</text>
<rect x="18.7" y="119.6" width="9.0" height="6.8" fill="#fff" stroke="#8c8c8c" stroke-width="0.7" stroke-dasharray="1 0.8"/>
<rect x="18.8" y="128.8" width="8.7" height="5.5" fill="#fff" stroke="#111" stroke-width="0.9"/>
<rect x="18.8" y="137.4" width="8.7" height="5.7" fill="#f7e2d8" stroke="#d81e28" stroke-width="0.9"/>
<text x="0" y="17.9" transform="translate(29.30 123.90) scale(0.1)" font-size="50" font-weight="bold" text-anchor="start" fill="#000" stroke="#000" stroke-width="1.75">IgG</text>
<text x="0" y="17.9" transform="translate(29.30 131.80) scale(0.1)" font-size="50" font-weight="bold" text-anchor="start" fill="#000" stroke="#000" stroke-width="1.75">Veh</text>
<text x="0" y="17.9" transform="translate(29.30 140.40) scale(0.1)" font-size="50" font-weight="bold" text-anchor="start" fill="#000" stroke="#000" stroke-width="1.75">JQ1</text>
<text x="0" y="19.0" transform="translate(104.50 124.20) scale(0.1)" font-size="53" font-weight="bold" text-anchor="middle" fill="#000" stroke="#000" stroke-width="1.85">8 hours</text>
<text x="0" y="19.0" transform="translate(225.50 124.20) scale(0.1)" font-size="53" font-weight="bold" text-anchor="middle" fill="#000" stroke="#000" stroke-width="1.85">24 hours</text>
<text x="0" y="0.0" transform="translate(76.20 134.40) scale(0.1)" font-size="86" font-weight="bold" text-anchor="middle" fill="#000" stroke="#000" stroke-width="3.01">CRLF2</text>
<text x="0" y="0.0" transform="translate(133.00 134.40) scale(0.1)" font-size="86" font-weight="bold" text-anchor="middle" fill="#000" stroke="#000" stroke-width="3.01">IL7R</text>
<text x="0" y="0.0" transform="translate(195.50 134.40) scale(0.1)" font-size="86" font-weight="bold" text-anchor="middle" fill="#000" stroke="#000" stroke-width="3.01">CRLF2</text>
<text x="0" y="0.0" transform="translate(251.20 134.40) scale(0.1)" font-size="86" font-weight="bold" text-anchor="middle" fill="#000" stroke="#000" stroke-width="3.01">IL7R</text>
<text x="0" y="19.0" transform="translate(284.60 160.00) rotate(90) scale(0.1)" font-size="53" font-weight="bold" text-anchor="middle" fill="#000" stroke="#000" stroke-width="1.85">MHH-CALL4</text>
<text x="0" y="19.0" transform="translate(284.60 206.50) rotate(90) scale(0.1)" font-size="53" font-weight="bold" text-anchor="middle" fill="#000" stroke="#000" stroke-width="1.85">MUTZ-5</text>
<clipPath id="cd00"><rect x="49.0" y="136.4" width="55.400000000000006" height="44.19999999999999"/></clipPath>
<g clip-path="url(#cd00)">
<path d="M53.10 179.60 L53.44 179.57 L53.78 179.50 L54.12 179.38 L54.46 179.23 L54.79 179.07 L55.13 178.89 L55.47 178.68 L55.81 178.42 L56.15 178.09 L56.49 177.70 L56.83 177.24 L57.17 176.70 L57.51 176.09 L57.85 175.12 L58.18 173.68 L58.52 171.88 L58.86 169.84 L59.20 167.67 L59.54 165.49 L59.88 163.37 L60.22 160.92 L60.56 158.19 L60.90 155.44 L61.24 152.93 L61.57 150.89 L61.91 149.46 L62.25 148.12 L62.59 146.90 L62.93 145.91 L63.27 145.24 L63.61 145.00 L63.95 145.33 L64.29 146.20 L64.63 147.44 L64.96 148.90 L65.30 150.44 L65.64 152.59 L65.98 155.41 L66.32 158.52 L66.66 161.57 L67.00 164.19 L67.34 166.62 L67.68 169.10 L68.02 171.46 L68.35 173.55 L68.69 175.18 L69.03 176.21 L69.37 176.88 L69.71 177.46 L70.05 177.95 L70.39 178.35 L70.73 178.66 L71.07 178.89 L71.41 179.07 L71.74 179.24 L72.08 179.38 L72.42 179.50 L72.76 179.57 L73.10 179.60" fill="none" stroke="#8c8c8c" stroke-width="0.6" stroke-linejoin="round"/>
<path d="M66.10 179.60 L66.46 179.57 L66.81 179.47 L67.17 179.33 L67.52 179.15 L67.88 178.94 L68.24 178.73 L68.59 178.46 L68.95 178.11 L69.30 177.69 L69.66 177.19 L70.02 176.59 L70.37 175.90 L70.73 174.96 L71.08 173.41 L71.44 171.37 L71.79 169.00 L72.15 166.43 L72.51 163.82 L72.86 161.29 L73.22 158.38 L73.57 155.12 L73.93 151.86 L74.29 148.92 L74.64 146.62 L75.00 144.98 L75.35 143.41 L75.71 142.03 L76.07 140.98 L76.42 140.38 L76.78 140.38 L77.13 140.98 L77.49 142.03 L77.85 143.41 L78.20 144.98 L78.56 146.62 L78.91 148.92 L79.27 151.86 L79.63 155.12 L79.98 158.38 L80.34 161.29 L80.69 163.82 L81.05 166.43 L81.41 169.00 L81.76 171.37 L82.12 173.41 L82.47 174.96 L82.83 175.90 L83.18 176.59 L83.54 177.19 L83.90 177.69 L84.25 178.11 L84.61 178.46 L84.96 178.73 L85.32 178.94 L85.68 179.15 L86.03 179.33 L86.39 179.47 L86.74 179.57 L87.10 179.60 L87.10 179.60 L66.10 179.60 Z" fill="#f7e2d8" stroke="none"/>
<path d="M66.10 179.60 L66.46 179.57 L66.81 179.47 L67.17 179.33 L67.52 179.15 L67.88 178.94 L68.24 178.73 L68.59 178.46 L68.95 178.11 L69.30 177.69 L69.66 177.19 L70.02 176.59 L70.37 175.90 L70.73 174.96 L71.08 173.41 L71.44 171.37 L71.79 169.00 L72.15 166.43 L72.51 163.82 L72.86 161.29 L73.22 158.38 L73.57 155.12 L73.93 151.86 L74.29 148.92 L74.64 146.62 L75.00 144.98 L75.35 143.41 L75.71 142.03 L76.07 140.98 L76.42 140.38 L76.78 140.38 L77.13 140.98 L77.49 142.03 L77.85 143.41 L78.20 144.98 L78.56 146.62 L78.91 148.92 L79.27 151.86 L79.63 155.12 L79.98 158.38 L80.34 161.29 L80.69 163.82 L81.05 166.43 L81.41 169.00 L81.76 171.37 L82.12 173.41 L82.47 174.96 L82.83 175.90 L83.18 176.59 L83.54 177.19 L83.90 177.69 L84.25 178.11 L84.61 178.46 L84.96 178.73 L85.32 178.94 L85.68 179.15 L86.03 179.33 L86.39 179.47 L86.74 179.57 L87.10 179.60" fill="none" stroke="#d81e28" stroke-width="1.0" stroke-linejoin="round"/>
<path d="M65.90 179.60 L66.26 179.56 L66.63 179.46 L66.99 179.31 L67.35 179.13 L67.71 178.92 L68.08 178.70 L68.44 178.42 L68.80 178.06 L69.16 177.63 L69.53 177.12 L69.89 176.52 L70.25 175.82 L70.62 174.83 L70.98 173.24 L71.34 171.17 L71.70 168.77 L72.07 166.18 L72.43 163.57 L72.79 161.03 L73.15 158.08 L73.52 154.81 L73.88 151.54 L74.24 148.61 L74.61 146.33 L74.97 144.68 L75.33 143.11 L75.69 141.73 L76.06 140.68 L76.42 140.08 L76.78 140.08 L77.14 140.68 L77.51 141.73 L77.87 143.11 L78.23 144.68 L78.59 146.33 L78.96 148.61 L79.32 151.54 L79.68 154.81 L80.05 158.08 L80.41 161.03 L80.77 163.57 L81.13 166.18 L81.50 168.77 L81.86 171.17 L82.22 173.24 L82.58 174.83 L82.95 175.82 L83.31 176.52 L83.67 177.12 L84.04 177.63 L84.40 178.06 L84.76 178.42 L85.12 178.70 L85.49 178.92 L85.85 179.13 L86.21 179.31 L86.57 179.46 L86.94 179.56 L87.30 179.60" fill="none" stroke="#501010" stroke-width="1.7" stroke-linejoin="round"/>
<path d="M66.10 179.60 L66.46 179.57 L66.81 179.47 L67.17 179.33 L67.52 179.15 L67.88 178.94 L68.24 178.73 L68.59 178.46 L68.95 178.11 L69.30 177.69 L69.66 177.19 L70.02 176.59 L70.37 175.90 L70.73 174.96 L71.08 173.41 L71.44 171.37 L71.79 169.00 L72.15 166.43 L72.51 163.82 L72.86 161.29 L73.22 158.38 L73.57 155.12 L73.93 151.86 L74.29 148.92 L74.64 146.62 L75.00 144.98 L75.35 143.41 L75.71 142.03 L76.07 140.98 L76.42 140.38 L76.78 140.38 L77.13 140.98 L77.49 142.03 L77.85 143.41 L78.20 144.98 L78.56 146.62 L78.91 148.92 L79.27 151.86 L79.63 155.12 L79.98 158.38 L80.34 161.29 L80.69 163.82 L81.05 166.43 L81.41 169.00 L81.76 171.37 L82.12 173.41 L82.47 174.96 L82.83 175.90 L83.18 176.59 L83.54 177.19 L83.90 177.69 L84.25 178.11 L84.61 178.46 L84.96 178.73 L85.32 178.94 L85.68 179.15 L86.03 179.33 L86.39 179.47 L86.74 179.57 L87.10 179.60" fill="none" stroke="#d81e28" stroke-width="0.9" stroke-linejoin="round"/>
</g>
<line x1="49.00" y1="179.90" x2="104.40" y2="179.90" stroke="#111" stroke-width="1.0"/>
<rect x="49.0" y="136.4" width="55.400000000000006" height="44.19999999999999" fill="none" stroke="#1a1a1a" stroke-width="1.05"/>
<clipPath id="cd01"><rect x="108.4" y="136.4" width="54.0" height="44.19999999999999"/></clipPath>
<g clip-path="url(#cd01)">
<path d="M109.00 166.90 L109.69 164.21 L110.38 164.09 L111.08 163.09 L111.77 165.06 L112.46 160.51 L113.15 165.24 L113.85 161.25 L114.54 162.12 L115.23 160.52 L115.92 162.16 L116.62 155.13 L117.31 156.61 L118.00 154.97 L118.69 156.37 L119.38 150.49 L120.08 150.39 L120.77 147.11 L121.46 147.20 L122.15 146.97 L122.85 142.53 L123.54 145.75 L124.23 144.48 L124.92 143.37 L125.62 145.03 L126.31 144.39 L127.00 148.68 L127.69 152.18 L128.38 159.04 L129.08 165.05 L129.77 168.94 L130.46 173.42 L131.15 175.73 L131.85 177.58 L132.54 178.86 L133.23 179.28 L133.92 179.40 L134.62 179.52 L135.31 179.58 L136.00 179.60" fill="none" stroke="#8c8c8c" stroke-width="0.7" stroke-linejoin="round"/>
<path d="M109.00 172.90 L109.72 172.98 L110.44 172.48 L111.17 173.32 L111.89 172.47 L112.61 172.63 L113.33 172.88 L114.06 172.38 L114.78 172.32 L115.50 172.25 L116.22 172.50 L116.94 172.72 L117.67 171.75 L118.39 170.92 L119.11 170.83 L119.83 169.81 L120.56 169.23 L121.28 168.68 L122.00 166.65 L122.72 165.59 L123.44 163.60 L124.17 162.38 L124.89 160.80 L125.61 157.79 L126.33 155.92 L127.06 153.55 L127.78 150.21 L128.50 146.49 L129.22 143.64 L129.94 142.82 L130.67 142.35 L131.39 146.32 L132.11 145.20 L132.83 151.81 L133.56 157.69 L134.28 163.41 L135.00 168.09 L135.72 172.36 L136.44 175.39 L137.17 177.37 L137.89 178.70 L138.61 179.26 L139.33 179.39 L140.06 179.52 L140.78 179.58 L141.50 179.60 L141.50 179.60 L109.00 179.60 Z" fill="#f7e2d8" fill-opacity="0.85" stroke="none"/>
<path d="M109.00 172.90 L109.72 172.98 L110.44 172.48 L111.17 173.32 L111.89 172.47 L112.61 172.63 L113.33 172.88 L114.06 172.38 L114.78 172.32 L115.50 172.25 L116.22 172.50 L116.94 172.72 L117.67 171.75 L118.39 170.92 L119.11 170.83 L119.83 169.81 L120.56 169.23 L121.28 168.68 L122.00 166.65 L122.72 165.59 L123.44 163.60 L124.17 162.38 L124.89 160.80 L125.61 157.79 L126.33 155.92 L127.06 153.55 L127.78 150.21 L128.50 146.49 L129.22 143.64 L129.94 142.82 L130.67 142.35 L131.39 146.32 L132.11 145.20 L132.83 151.81 L133.56 157.69 L134.28 163.41 L135.00 168.09 L135.72 172.36 L136.44 175.39 L137.17 177.37 L137.89 178.70 L138.61 179.26 L139.33 179.39 L140.06 179.52 L140.78 179.58 L141.50 179.60" fill="none" stroke="#d81e28" stroke-width="1.15" stroke-linejoin="round"/>
<path d="M109.00 177.14 L109.88 177.03 L110.76 176.97 L111.63 176.77 L112.51 176.84 L113.39 176.75 L114.27 176.68 L115.14 176.52 L116.02 176.45 L116.90 176.27 L117.78 175.99 L118.66 175.85 L119.53 175.32 L120.41 174.78 L121.29 173.74 L122.17 172.78 L123.04 171.55 L123.92 169.78 L124.80 168.84 L125.68 166.21 L126.56 164.13 L127.43 162.30 L128.31 160.67 L129.19 157.05 L130.07 153.08 L130.94 149.54 L131.82 146.42 L132.70 142.61 L133.58 139.88 L134.46 140.11 L135.33 142.53 L136.21 145.91 L137.09 147.06 L137.97 152.45 L138.84 157.54 L139.72 161.44 L140.60 167.16 L141.48 171.55 L142.36 174.79 L143.23 176.46 L144.11 177.90 L144.99 178.96 L145.87 179.28 L146.74 179.45 L147.62 179.56 L148.50 179.60" fill="none" stroke="#111" stroke-width="1.15" stroke-linejoin="round"/>
</g>
<line x1="108.40" y1="179.90" x2="162.40" y2="179.90" stroke="#111" stroke-width="1.0"/>
<rect x="108.4" y="136.4" width="54.0" height="44.19999999999999" fill="none" stroke="#1a1a1a" stroke-width="1.05"/>
<clipPath id="cd02"><rect x="166.4" y="136.4" width="54.599999999999994" height="44.19999999999999"/></clipPath>
<g clip-path="url(#cd02)">
<path d="M169.70 179.60 L170.01 179.58 L170.31 179.52 L170.62 179.42 L170.92 179.30 L171.23 179.16 L171.53 179.00 L171.84 178.83 L172.14 178.60 L172.45 178.31 L172.75 177.95 L173.06 177.52 L173.36 177.01 L173.67 176.42 L173.97 175.68 L174.28 174.43 L174.58 172.76 L174.89 170.78 L175.19 168.61 L175.50 166.37 L175.80 164.19 L176.11 161.86 L176.41 159.15 L176.72 156.33 L177.02 153.66 L177.33 151.41 L177.63 149.82 L177.94 148.44 L178.24 147.16 L178.55 146.09 L178.85 145.33 L179.16 145.01 L179.46 145.26 L179.77 146.10 L180.07 147.36 L180.38 148.87 L180.68 150.48 L180.99 152.75 L181.29 155.71 L181.60 158.96 L181.90 162.08 L182.21 164.70 L182.51 167.25 L182.82 169.81 L183.12 172.19 L183.43 174.21 L183.73 175.68 L184.04 176.52 L184.34 177.18 L184.65 177.74 L184.95 178.20 L185.26 178.56 L185.56 178.82 L185.87 179.00 L186.17 179.16 L186.48 179.31 L186.78 179.43 L187.09 179.52 L187.39 179.58 L187.70 179.60" fill="none" stroke="#8c8c8c" stroke-width="0.6" stroke-linejoin="round"/>
<path d="M186.50 179.60 L186.83 179.57 L187.16 179.49 L187.49 179.36 L187.82 179.20 L188.14 179.01 L188.47 178.81 L188.80 178.58 L189.13 178.26 L189.46 177.86 L189.79 177.38 L190.12 176.80 L190.45 176.13 L190.77 175.33 L191.10 173.99 L191.43 172.08 L191.76 169.75 L192.09 167.16 L192.42 164.47 L192.75 161.84 L193.08 159.05 L193.41 155.79 L193.73 152.40 L194.06 149.21 L194.39 146.58 L194.72 144.74 L195.05 143.10 L195.38 141.60 L195.71 140.39 L196.04 139.61 L196.36 139.41 L196.69 139.88 L197.02 140.89 L197.35 142.28 L197.68 143.91 L198.01 145.63 L198.34 147.95 L198.67 151.02 L198.99 154.46 L199.32 157.90 L199.65 160.96 L199.98 163.63 L200.31 166.39 L200.64 169.09 L200.97 171.56 L201.30 173.63 L201.63 175.14 L201.95 176.02 L202.28 176.72 L202.61 177.33 L202.94 177.83 L203.27 178.25 L203.60 178.57 L203.93 178.81 L204.26 179.02 L204.58 179.20 L204.91 179.36 L205.24 179.49 L205.57 179.57 L205.90 179.60 L205.90 179.60 L186.50 179.60 Z" fill="#f7e2d8" stroke="none"/>
<path d="M186.50 179.60 L186.83 179.57 L187.16 179.49 L187.49 179.36 L187.82 179.20 L188.14 179.01 L188.47 178.81 L188.80 178.58 L189.13 178.26 L189.46 177.86 L189.79 177.38 L190.12 176.80 L190.45 176.13 L190.77 175.33 L191.10 173.99 L191.43 172.08 L191.76 169.75 L192.09 167.16 L192.42 164.47 L192.75 161.84 L193.08 159.05 L193.41 155.79 L193.73 152.40 L194.06 149.21 L194.39 146.58 L194.72 144.74 L195.05 143.10 L195.38 141.60 L195.71 140.39 L196.04 139.61 L196.36 139.41 L196.69 139.88 L197.02 140.89 L197.35 142.28 L197.68 143.91 L198.01 145.63 L198.34 147.95 L198.67 151.02 L198.99 154.46 L199.32 157.90 L199.65 160.96 L199.98 163.63 L200.31 166.39 L200.64 169.09 L200.97 171.56 L201.30 173.63 L201.63 175.14 L201.95 176.02 L202.28 176.72 L202.61 177.33 L202.94 177.83 L203.27 178.25 L203.60 178.57 L203.93 178.81 L204.26 179.02 L204.58 179.20 L204.91 179.36 L205.24 179.49 L205.57 179.57 L205.90 179.60" fill="none" stroke="#d81e28" stroke-width="1.1" stroke-linejoin="round"/>
<path d="M188.10 179.60 L188.44 179.57 L188.77 179.48 L189.11 179.35 L189.44 179.18 L189.78 178.99 L190.11 178.79 L190.45 178.54 L190.78 178.23 L191.12 177.84 L191.46 177.37 L191.79 176.82 L192.13 176.17 L192.46 175.41 L192.80 174.17 L193.13 172.38 L193.47 170.17 L193.81 167.69 L194.14 165.09 L194.48 162.50 L194.81 159.91 L195.15 156.85 L195.48 153.56 L195.82 150.35 L196.15 147.55 L196.49 145.46 L196.83 143.85 L197.16 142.31 L197.50 140.97 L197.83 139.98 L198.17 139.45 L198.50 139.53 L198.84 140.27 L199.17 141.50 L199.51 143.05 L199.85 144.77 L200.18 146.73 L200.52 149.55 L200.85 152.94 L201.19 156.50 L201.52 159.83 L201.86 162.63 L202.19 165.42 L202.53 168.22 L202.87 170.83 L203.20 173.09 L203.54 174.80 L203.87 175.83 L204.21 176.57 L204.54 177.21 L204.88 177.75 L205.22 178.18 L205.55 178.53 L205.89 178.79 L206.22 178.99 L206.56 179.19 L206.89 179.35 L207.23 179.48 L207.56 179.57 L207.90 179.60" fill="none" stroke="#111" stroke-width="1.1" stroke-linejoin="round"/>
</g>
<line x1="166.40" y1="179.90" x2="221.00" y2="179.90" stroke="#111" stroke-width="1.0"/>
<rect x="166.4" y="136.4" width="54.599999999999994" height="44.19999999999999" fill="none" stroke="#1a1a1a" stroke-width="1.05"/>
<clipPath id="cd03"><rect x="225.4" y="136.4" width="54.99999999999997" height="44.19999999999999"/></clipPath>
<g clip-path="url(#cd03)">
<path d="M226.00 166.97 L226.69 164.38 L227.38 164.77 L228.08 164.91 L228.77 163.02 L229.46 163.52 L230.15 162.97 L230.85 159.96 L231.54 163.21 L232.23 161.90 L232.92 159.00 L233.62 158.48 L234.31 158.29 L235.00 155.45 L235.69 154.01 L236.38 150.14 L237.08 152.17 L237.77 149.47 L238.46 148.12 L239.15 143.43 L239.85 148.35 L240.54 144.42 L241.23 142.60 L241.92 146.90 L242.62 143.80 L243.31 143.46 L244.00 148.63 L244.69 150.00 L245.38 161.46 L246.08 164.16 L246.77 169.07 L247.46 174.21 L248.15 175.51 L248.85 177.82 L249.54 178.79 L250.23 179.27 L250.92 179.41 L251.62 179.53 L252.31 179.58 L253.00 179.60" fill="none" stroke="#8c8c8c" stroke-width="0.7" stroke-linejoin="round"/>
<path d="M226.00 170.03 L226.66 170.35 L227.32 169.26 L227.99 169.35 L228.65 168.91 L229.31 170.41 L229.97 170.02 L230.64 170.03 L231.30 169.33 L231.96 169.15 L232.62 168.00 L233.28 168.87 L233.95 167.22 L234.61 166.94 L235.27 166.52 L235.93 165.70 L236.60 165.80 L237.26 164.45 L237.92 163.61 L238.58 162.43 L239.24 162.18 L239.91 159.50 L240.57 158.24 L241.23 157.02 L241.89 153.45 L242.56 151.89 L243.22 149.66 L243.88 147.40 L244.54 144.37 L245.20 141.83 L245.87 143.44 L246.53 144.08 L247.19 147.30 L247.85 152.34 L248.52 158.10 L249.18 163.18 L249.84 169.15 L250.50 173.23 L251.16 175.91 L251.83 177.83 L252.49 179.00 L253.15 179.31 L253.81 179.44 L254.48 179.53 L255.14 179.58 L255.80 179.60 L255.80 179.60 L226.00 179.60 Z" fill="#f7e2d8" fill-opacity="0.85" stroke="none"/>
<path d="M226.00 170.03 L226.66 170.35 L227.32 169.26 L227.99 169.35 L228.65 168.91 L229.31 170.41 L229.97 170.02 L230.64 170.03 L231.30 169.33 L231.96 169.15 L232.62 168.00 L233.28 168.87 L233.95 167.22 L234.61 166.94 L235.27 166.52 L235.93 165.70 L236.60 165.80 L237.26 164.45 L237.92 163.61 L238.58 162.43 L239.24 162.18 L239.91 159.50 L240.57 158.24 L241.23 157.02 L241.89 153.45 L242.56 151.89 L243.22 149.66 L243.88 147.40 L244.54 144.37 L245.20 141.83 L245.87 143.44 L246.53 144.08 L247.19 147.30 L247.85 152.34 L248.52 158.10 L249.18 163.18 L249.84 169.15 L250.50 173.23 L251.16 175.91 L251.83 177.83 L252.49 179.00 L253.15 179.31 L253.81 179.44 L254.48 179.53 L255.14 179.58 L255.80 179.60" fill="none" stroke="#d81e28" stroke-width="1.15" stroke-linejoin="round"/>
<path d="M226.00 175.00 L226.90 174.92 L227.80 174.67 L228.70 174.80 L229.60 174.57 L230.50 174.37 L231.40 173.92 L232.30 173.94 L233.20 173.76 L234.10 173.39 L235.00 173.39 L235.90 173.27 L236.80 172.24 L237.70 171.71 L238.60 171.35 L239.50 169.69 L240.40 168.91 L241.30 165.98 L242.20 164.62 L243.10 163.40 L244.00 160.19 L244.90 156.55 L245.80 154.12 L246.70 149.90 L247.60 146.58 L248.50 142.32 L249.40 141.12 L250.30 140.80 L251.20 140.38 L252.10 138.94 L253.00 140.86 L253.90 143.36 L254.80 138.85 L255.70 143.45 L256.60 148.27 L257.50 155.04 L258.40 161.72 L259.30 167.24 L260.20 172.43 L261.10 175.47 L262.00 177.27 L262.90 178.79 L263.80 179.27 L264.70 179.46 L265.60 179.56 L266.50 179.60" fill="none" stroke="#111" stroke-width="1.15" stroke-linejoin="round"/>
</g>
<line x1="225.40" y1="179.90" x2="280.40" y2="179.90" stroke="#111" stroke-width="1.0"/>
<rect x="225.4" y="136.4" width="54.99999999999997" height="44.19999999999999" fill="none" stroke="#1a1a1a" stroke-width="1.05"/>
<clipPath id="cd10"><rect x="49.0" y="184.4" width="55.400000000000006" height="44.599999999999994"/></clipPath>
<g clip-path="url(#cd10)">
<path d="M53.10 228.00 L53.44 227.97 L53.78 227.90 L54.12 227.78 L54.46 227.63 L54.79 227.47 L55.13 227.29 L55.47 227.08 L55.81 226.82 L56.15 226.49 L56.49 226.10 L56.83 225.64 L57.17 225.10 L57.51 224.49 L57.85 223.52 L58.18 222.08 L58.52 220.28 L58.86 218.24 L59.20 216.07 L59.54 213.89 L59.88 211.77 L60.22 209.32 L60.56 206.59 L60.90 203.84 L61.24 201.33 L61.57 199.29 L61.91 197.86 L62.25 196.52 L62.59 195.30 L62.93 194.31 L63.27 193.64 L63.61 193.40 L63.95 193.73 L64.29 194.60 L64.63 195.84 L64.96 197.30 L65.30 198.84 L65.64 200.99 L65.98 203.81 L66.32 206.92 L66.66 209.97 L67.00 212.59 L67.34 215.02 L67.68 217.50 L68.02 219.86 L68.35 221.95 L68.69 223.58 L69.03 224.61 L69.37 225.28 L69.71 225.86 L70.05 226.35 L70.39 226.75 L70.73 227.06 L71.07 227.29 L71.41 227.47 L71.74 227.64 L72.08 227.78 L72.42 227.90 L72.76 227.97 L73.10 228.00" fill="none" stroke="#8c8c8c" stroke-width="0.6" stroke-linejoin="round"/>
<path d="M65.70 228.00 L66.05 227.97 L66.39 227.88 L66.74 227.74 L67.09 227.57 L67.44 227.38 L67.78 227.17 L68.13 226.92 L68.48 226.60 L68.83 226.21 L69.17 225.74 L69.52 225.19 L69.87 224.54 L70.22 223.76 L70.56 222.45 L70.91 220.62 L71.26 218.43 L71.61 216.00 L71.95 213.48 L72.30 211.00 L72.65 208.43 L73.00 205.41 L73.34 202.22 L73.69 199.17 L74.04 196.56 L74.39 194.68 L74.73 193.13 L75.08 191.66 L75.43 190.42 L75.78 189.53 L76.12 189.11 L76.47 189.31 L76.82 190.09 L77.17 191.31 L77.51 192.82 L77.86 194.46 L78.21 196.38 L78.56 199.12 L78.90 202.37 L79.25 205.75 L79.60 208.91 L79.95 211.57 L80.29 214.23 L80.64 216.89 L80.99 219.39 L81.34 221.56 L81.68 223.24 L82.03 224.27 L82.38 224.99 L82.73 225.61 L83.07 226.13 L83.42 226.56 L83.77 226.90 L84.12 227.17 L84.46 227.38 L84.81 227.57 L85.16 227.74 L85.51 227.88 L85.85 227.97 L86.20 228.00 L86.20 228.00 L65.70 228.00 Z" fill="#f7e2d8" stroke="none"/>
<path d="M65.70 228.00 L66.05 227.97 L66.39 227.88 L66.74 227.74 L67.09 227.57 L67.44 227.38 L67.78 227.17 L68.13 226.92 L68.48 226.60 L68.83 226.21 L69.17 225.74 L69.52 225.19 L69.87 224.54 L70.22 223.76 L70.56 222.45 L70.91 220.62 L71.26 218.43 L71.61 216.00 L71.95 213.48 L72.30 211.00 L72.65 208.43 L73.00 205.41 L73.34 202.22 L73.69 199.17 L74.04 196.56 L74.39 194.68 L74.73 193.13 L75.08 191.66 L75.43 190.42 L75.78 189.53 L76.12 189.11 L76.47 189.31 L76.82 190.09 L77.17 191.31 L77.51 192.82 L77.86 194.46 L78.21 196.38 L78.56 199.12 L78.90 202.37 L79.25 205.75 L79.60 208.91 L79.95 211.57 L80.29 214.23 L80.64 216.89 L80.99 219.39 L81.34 221.56 L81.68 223.24 L82.03 224.27 L82.38 224.99 L82.73 225.61 L83.07 226.13 L83.42 226.56 L83.77 226.90 L84.12 227.17 L84.46 227.38 L84.81 227.57 L85.16 227.74 L85.51 227.88 L85.85 227.97 L86.20 228.00" fill="none" stroke="#d81e28" stroke-width="1.0" stroke-linejoin="round"/>
<path d="M66.10 228.00 L66.46 227.97 L66.81 227.87 L67.17 227.72 L67.52 227.55 L67.88 227.34 L68.24 227.13 L68.59 226.85 L68.95 226.51 L69.30 226.09 L69.66 225.58 L70.02 224.99 L70.37 224.29 L70.73 223.35 L71.08 221.80 L71.44 219.75 L71.79 217.37 L72.15 214.79 L72.51 212.18 L72.86 209.64 L73.22 206.72 L73.57 203.46 L73.93 200.19 L74.29 197.24 L74.64 194.94 L75.00 193.29 L75.35 191.72 L75.71 190.34 L76.07 189.28 L76.42 188.68 L76.78 188.68 L77.13 189.28 L77.49 190.34 L77.85 191.72 L78.20 193.29 L78.56 194.94 L78.91 197.24 L79.27 200.19 L79.63 203.46 L79.98 206.72 L80.34 209.64 L80.69 212.18 L81.05 214.79 L81.41 217.37 L81.76 219.75 L82.12 221.80 L82.47 223.35 L82.83 224.29 L83.18 224.99 L83.54 225.58 L83.90 226.09 L84.25 226.51 L84.61 226.85 L84.96 227.13 L85.32 227.34 L85.68 227.55 L86.03 227.72 L86.39 227.87 L86.74 227.97 L87.10 228.00" fill="none" stroke="#111" stroke-width="1.0" stroke-linejoin="round"/>
</g>
<line x1="49.00" y1="228.30" x2="104.40" y2="228.30" stroke="#111" stroke-width="1.0"/>
<rect x="49.0" y="184.4" width="55.400000000000006" height="44.599999999999994" fill="none" stroke="#1a1a1a" stroke-width="1.05"/>
<clipPath id="cd11"><rect x="108.4" y="184.4" width="54.0" height="44.599999999999994"/></clipPath>
<g clip-path="url(#cd11)">
<path d="M109.00 212.06 L109.69 212.57 L110.38 210.43 L111.08 212.33 L111.77 210.44 L112.46 208.30 L113.15 209.03 L113.85 210.27 L114.54 209.27 L115.23 206.17 L115.92 208.02 L116.62 205.61 L117.31 205.20 L118.00 203.58 L118.69 199.26 L119.38 200.61 L120.08 196.94 L120.77 199.20 L121.46 195.98 L122.15 193.45 L122.85 190.30 L123.54 191.23 L124.23 190.65 L124.92 187.68 L125.62 195.19 L126.31 194.13 L127.00 199.90 L127.69 199.69 L128.38 210.13 L129.08 210.79 L129.77 217.14 L130.46 222.15 L131.15 224.27 L131.85 225.70 L132.54 227.22 L133.23 227.70 L133.92 227.85 L134.62 227.92 L135.31 227.98 L136.00 228.00" fill="none" stroke="#8c8c8c" stroke-width="0.7" stroke-linejoin="round"/>
<path d="M109.00 223.08 L109.72 222.93 L110.44 223.40 L111.17 222.89 L111.89 222.91 L112.61 223.12 L113.33 222.59 L114.06 222.56 L114.78 222.61 L115.50 222.40 L116.22 222.11 L116.94 222.10 L117.67 221.71 L118.39 221.45 L119.11 220.30 L119.83 219.88 L120.56 219.69 L121.28 219.00 L122.00 216.61 L122.72 216.08 L123.44 213.80 L124.17 212.19 L124.89 210.37 L125.61 208.56 L126.33 207.29 L127.06 204.65 L127.78 201.42 L128.50 197.75 L129.22 194.72 L129.94 192.10 L130.67 190.98 L131.39 189.91 L132.11 192.88 L132.83 196.29 L133.56 202.06 L134.28 208.44 L135.00 214.03 L135.72 219.89 L136.44 223.19 L137.17 225.56 L137.89 227.02 L138.61 227.64 L139.33 227.80 L140.06 227.91 L140.78 227.98 L141.50 228.00 L141.50 228.00 L109.00 228.00 Z" fill="#f7e2d8" fill-opacity="0.85" stroke="none"/>
<path d="M109.00 223.08 L109.72 222.93 L110.44 223.40 L111.17 222.89 L111.89 222.91 L112.61 223.12 L113.33 222.59 L114.06 222.56 L114.78 222.61 L115.50 222.40 L116.22 222.11 L116.94 222.10 L117.67 221.71 L118.39 221.45 L119.11 220.30 L119.83 219.88 L120.56 219.69 L121.28 219.00 L122.00 216.61 L122.72 216.08 L123.44 213.80 L124.17 212.19 L124.89 210.37 L125.61 208.56 L126.33 207.29 L127.06 204.65 L127.78 201.42 L128.50 197.75 L129.22 194.72 L129.94 192.10 L130.67 190.98 L131.39 189.91 L132.11 192.88 L132.83 196.29 L133.56 202.06 L134.28 208.44 L135.00 214.03 L135.72 219.89 L136.44 223.19 L137.17 225.56 L137.89 227.02 L138.61 227.64 L139.33 227.80 L140.06 227.91 L140.78 227.98 L141.50 228.00" fill="none" stroke="#d81e28" stroke-width="1.15" stroke-linejoin="round"/>
<path d="M109.00 225.48 L109.87 225.55 L110.73 225.48 L111.60 225.36 L112.47 225.18 L113.33 225.38 L114.20 225.32 L115.07 225.00 L115.93 225.17 L116.80 224.86 L117.67 225.01 L118.53 224.53 L119.40 223.97 L120.27 223.60 L121.13 222.77 L122.00 222.03 L122.87 221.09 L123.73 219.82 L124.60 218.60 L125.47 217.07 L126.33 215.18 L127.20 213.99 L128.07 210.31 L128.93 208.25 L129.80 206.39 L130.67 202.09 L131.53 200.47 L132.40 196.25 L133.27 192.94 L134.13 191.55 L135.00 191.08 L135.87 192.44 L136.73 196.77 L137.60 201.03 L138.47 205.63 L139.33 210.33 L140.20 214.30 L141.07 219.48 L141.93 222.88 L142.80 224.88 L143.67 226.48 L144.53 227.39 L145.40 227.71 L146.27 227.87 L147.13 227.97 L148.00 228.00" fill="none" stroke="#111" stroke-width="1.15" stroke-linejoin="round"/>
</g>
<line x1="108.40" y1="228.30" x2="162.40" y2="228.30" stroke="#111" stroke-width="1.0"/>
<rect x="108.4" y="184.4" width="54.0" height="44.599999999999994" fill="none" stroke="#1a1a1a" stroke-width="1.05"/>
<clipPath id="cd12"><rect x="166.4" y="184.4" width="54.599999999999994" height="44.599999999999994"/></clipPath>
<g clip-path="url(#cd12)">
<path d="M169.70 228.00 L170.01 227.98 L170.31 227.92 L170.62 227.82 L170.92 227.70 L171.23 227.55 L171.53 227.39 L171.84 227.22 L172.14 226.99 L172.45 226.69 L172.75 226.33 L173.06 225.89 L173.36 225.38 L173.67 224.79 L173.97 224.03 L174.28 222.77 L174.58 221.08 L174.89 219.07 L175.19 216.88 L175.50 214.62 L175.80 212.41 L176.11 210.05 L176.41 207.31 L176.72 204.46 L177.02 201.76 L177.33 199.49 L177.63 197.87 L177.94 196.48 L178.24 195.19 L178.55 194.10 L178.85 193.34 L179.16 193.01 L179.46 193.26 L179.77 194.11 L180.07 195.39 L180.38 196.92 L180.68 198.55 L180.99 200.84 L181.29 203.84 L181.60 207.12 L181.90 210.27 L182.21 212.93 L182.51 215.51 L182.82 218.10 L183.12 220.51 L183.43 222.55 L183.73 224.04 L184.04 224.89 L184.34 225.55 L184.65 226.12 L184.95 226.58 L185.26 226.95 L185.56 227.21 L185.87 227.40 L186.17 227.56 L186.48 227.70 L186.78 227.83 L187.09 227.92 L187.39 227.98 L187.70 228.00" fill="none" stroke="#8c8c8c" stroke-width="0.6" stroke-linejoin="round"/>
<path d="M186.50 228.00 L186.83 227.97 L187.16 227.89 L187.49 227.77 L187.82 227.61 L188.14 227.43 L188.47 227.24 L188.80 227.01 L189.13 226.70 L189.46 226.31 L189.79 225.84 L190.12 225.29 L190.45 224.63 L190.77 223.86 L191.10 222.56 L191.43 220.70 L191.76 218.44 L192.09 215.93 L192.42 213.33 L192.75 210.77 L193.08 208.06 L193.41 204.90 L193.73 201.61 L194.06 198.52 L194.39 195.96 L194.72 194.18 L195.05 192.59 L195.38 191.13 L195.71 189.96 L196.04 189.21 L196.36 189.01 L196.69 189.46 L197.02 190.44 L197.35 191.80 L197.68 193.38 L198.01 195.04 L198.34 197.29 L198.67 200.27 L198.99 203.61 L199.32 206.94 L199.65 209.92 L199.98 212.51 L200.31 215.19 L200.64 217.81 L200.97 220.20 L201.30 222.21 L201.63 223.67 L201.95 224.52 L202.28 225.21 L202.61 225.79 L202.94 226.29 L203.27 226.69 L203.60 227.00 L203.93 227.24 L204.26 227.43 L204.58 227.61 L204.91 227.77 L205.24 227.89 L205.57 227.97 L205.90 228.00 L205.90 228.00 L186.50 228.00 Z" fill="#f7e2d8" stroke="none"/>
<path d="M186.50 228.00 L186.83 227.97 L187.16 227.89 L187.49 227.77 L187.82 227.61 L188.14 227.43 L188.47 227.24 L188.80 227.01 L189.13 226.70 L189.46 226.31 L189.79 225.84 L190.12 225.29 L190.45 224.63 L190.77 223.86 L191.10 222.56 L191.43 220.70 L191.76 218.44 L192.09 215.93 L192.42 213.33 L192.75 210.77 L193.08 208.06 L193.41 204.90 L193.73 201.61 L194.06 198.52 L194.39 195.96 L194.72 194.18 L195.05 192.59 L195.38 191.13 L195.71 189.96 L196.04 189.21 L196.36 189.01 L196.69 189.46 L197.02 190.44 L197.35 191.80 L197.68 193.38 L198.01 195.04 L198.34 197.29 L198.67 200.27 L198.99 203.61 L199.32 206.94 L199.65 209.92 L199.98 212.51 L200.31 215.19 L200.64 217.81 L200.97 220.20 L201.30 222.21 L201.63 223.67 L201.95 224.52 L202.28 225.21 L202.61 225.79 L202.94 226.29 L203.27 226.69 L203.60 227.00 L203.93 227.24 L204.26 227.43 L204.58 227.61 L204.91 227.77 L205.24 227.89 L205.57 227.97 L205.90 228.00" fill="none" stroke="#d81e28" stroke-width="1.1" stroke-linejoin="round"/>
<path d="M188.10 228.00 L188.44 227.97 L188.77 227.88 L189.11 227.76 L189.44 227.59 L189.78 227.41 L190.11 227.21 L190.45 226.98 L190.78 226.67 L191.12 226.29 L191.46 225.84 L191.79 225.30 L192.13 224.67 L192.46 223.94 L192.80 222.73 L193.13 220.99 L193.47 218.85 L193.81 216.45 L194.14 213.92 L194.48 211.41 L194.81 208.90 L195.15 205.93 L195.48 202.74 L195.82 199.63 L196.15 196.91 L196.49 194.88 L196.83 193.31 L197.16 191.82 L197.50 190.53 L197.83 189.56 L198.17 189.05 L198.50 189.13 L198.84 189.84 L199.17 191.03 L199.51 192.55 L199.85 194.21 L200.18 196.11 L200.52 198.85 L200.85 202.14 L201.19 205.59 L201.52 208.82 L201.86 211.54 L202.19 214.25 L202.53 216.96 L202.87 219.50 L203.20 221.68 L203.54 223.34 L203.87 224.34 L204.21 225.06 L204.54 225.68 L204.88 226.20 L205.22 226.63 L205.55 226.96 L205.89 227.21 L206.22 227.41 L206.56 227.60 L206.89 227.76 L207.23 227.89 L207.56 227.97 L207.90 228.00" fill="none" stroke="#111" stroke-width="1.1" stroke-linejoin="round"/>
</g>
<line x1="166.40" y1="228.30" x2="221.00" y2="228.30" stroke="#111" stroke-width="1.0"/>
<rect x="166.4" y="184.4" width="54.599999999999994" height="44.599999999999994" fill="none" stroke="#1a1a1a" stroke-width="1.05"/>
<clipPath id="cd13"><rect x="225.4" y="184.4" width="54.99999999999997" height="44.599999999999994"/></clipPath>
<g clip-path="url(#cd13)">
<path d="M226.00 214.60 L226.69 213.79 L227.38 210.83 L228.08 212.39 L228.77 212.78 L229.46 210.54 L230.15 211.30 L230.85 210.49 L231.54 209.72 L232.23 208.64 L232.92 208.53 L233.62 208.63 L234.31 203.41 L235.00 205.69 L235.69 202.70 L236.38 201.45 L237.08 196.54 L237.77 197.18 L238.46 198.33 L239.15 192.23 L239.85 189.37 L240.54 188.89 L241.23 192.20 L241.92 196.42 L242.62 195.72 L243.31 199.28 L244.00 200.05 L244.69 207.51 L245.38 209.43 L246.08 215.16 L246.77 218.95 L247.46 222.42 L248.15 224.69 L248.85 226.20 L249.54 227.40 L250.23 227.69 L250.92 227.83 L251.62 227.92 L252.31 227.98 L253.00 228.00" fill="none" stroke="#8c8c8c" stroke-width="0.7" stroke-linejoin="round"/>
<path d="M226.00 221.80 L226.70 221.33 L227.40 221.29 L228.10 220.79 L228.80 221.40 L229.50 221.33 L230.20 221.28 L230.90 221.47 L231.60 221.50 L232.30 221.07 L233.00 220.83 L233.70 220.50 L234.40 220.28 L235.10 219.66 L235.80 218.46 L236.50 217.82 L237.20 217.65 L237.90 217.05 L238.60 215.29 L239.30 213.72 L240.00 213.24 L240.70 210.63 L241.40 209.05 L242.10 207.21 L242.80 203.90 L243.50 200.55 L244.20 197.85 L244.90 193.79 L245.60 191.59 L246.30 189.55 L247.00 190.69 L247.70 192.87 L248.40 196.34 L249.10 201.30 L249.80 207.30 L250.50 212.31 L251.20 217.59 L251.90 222.05 L252.60 223.95 L253.30 226.08 L254.00 227.24 L254.70 227.65 L255.40 227.81 L256.10 227.92 L256.80 227.98 L257.50 228.00 L257.50 228.00 L226.00 228.00 Z" fill="#f7e2d8" fill-opacity="0.85" stroke="none"/>
<path d="M226.00 221.80 L226.70 221.33 L227.40 221.29 L228.10 220.79 L228.80 221.40 L229.50 221.33 L230.20 221.28 L230.90 221.47 L231.60 221.50 L232.30 221.07 L233.00 220.83 L233.70 220.50 L234.40 220.28 L235.10 219.66 L235.80 218.46 L236.50 217.82 L237.20 217.65 L237.90 217.05 L238.60 215.29 L239.30 213.72 L240.00 213.24 L240.70 210.63 L241.40 209.05 L242.10 207.21 L242.80 203.90 L243.50 200.55 L244.20 197.85 L244.90 193.79 L245.60 191.59 L246.30 189.55 L247.00 190.69 L247.70 192.87 L248.40 196.34 L249.10 201.30 L249.80 207.30 L250.50 212.31 L251.20 217.59 L251.90 222.05 L252.60 223.95 L253.30 226.08 L254.00 227.24 L254.70 227.65 L255.40 227.81 L256.10 227.92 L256.80 227.98 L257.50 228.00" fill="none" stroke="#d81e28" stroke-width="1.15" stroke-linejoin="round"/>
<path d="M226.00 225.04 L226.92 224.93 L227.84 224.98 L228.77 224.74 L229.69 224.89 L230.61 224.58 L231.53 224.62 L232.46 224.48 L233.38 224.26 L234.30 224.52 L235.22 223.95 L236.14 223.89 L237.07 223.69 L237.99 222.97 L238.91 222.85 L239.83 221.98 L240.76 221.33 L241.68 219.66 L242.60 217.94 L243.52 216.62 L244.44 213.40 L245.37 208.03 L246.29 202.99 L247.21 197.00 L248.13 192.62 L249.06 190.45 L249.98 189.90 L250.90 189.00 L251.82 187.93 L252.74 188.47 L253.67 188.25 L254.59 189.10 L255.51 191.61 L256.43 194.32 L257.36 199.53 L258.28 205.73 L259.20 210.50 L260.12 216.27 L261.04 221.18 L261.97 223.77 L262.89 225.77 L263.81 227.15 L264.73 227.67 L265.66 227.84 L266.58 227.96 L267.50 228.00" fill="none" stroke="#111" stroke-width="1.15" stroke-linejoin="round"/>
</g>
<line x1="225.40" y1="228.30" x2="280.40" y2="228.30" stroke="#111" stroke-width="1.0"/>
<rect x="225.4" y="184.4" width="54.99999999999997" height="44.599999999999994" fill="none" stroke="#1a1a1a" stroke-width="1.05"/>
<text x="0" y="19.0" transform="translate(37.00 220.00) rotate(-90) scale(0.1)" font-size="53" font-weight="bold" text-anchor="middle" fill="#000" stroke="#000" stroke-width="1.85">Counts</text>
<line x1="45.00" y1="235.10" x2="45.00" y2="212.50" stroke="#000" stroke-width="1.0"/>
<line x1="44.50" y1="234.60" x2="70.00" y2="234.60" stroke="#000" stroke-width="1.0"/>
<polygon points="45,208.6 42.9,213.6 47.1,213.6" fill="#000"/>
<polygon points="73.6,234.6 68.6,232.5 68.6,236.7" fill="#000"/>
<text x="0" y="20.4" transform="translate(48.00 240.80) scale(0.1)" font-size="57" font-weight="bold" text-anchor="start" fill="#000" stroke="#000" stroke-width="2.00">Fluorescence Intensity</text>
<text x="0" y="0.0" transform="translate(323.00 124.00) scale(0.1)" font-size="115" font-weight="bold" text-anchor="start" fill="#000" stroke="#000" stroke-width="4.03">E</text>
<line x1="351.00" y1="111.00" x2="386.40" y2="111.00" stroke="#222" stroke-width="0.6"/>
<line x1="351.00" y1="109.60" x2="351.00" y2="112.40" stroke="#222" stroke-width="0.6"/>
<line x1="386.40" y1="109.60" x2="386.40" y2="112.40" stroke="#222" stroke-width="0.6"/>
<text x="0" y="19.7" transform="translate(369.60 108.30) scale(0.1)" font-size="55" font-weight="normal" text-anchor="middle" fill="#000">1 kb</text>
<text x="0" y="19.7" transform="translate(356.20 118.00) scale(0.1)" font-size="55" font-weight="normal" text-anchor="end" fill="#000">150</text>
<text x="0" y="19.7" transform="translate(356.40 124.00) scale(0.1)" font-size="55" font-weight="normal" text-anchor="end" fill="#000">0</text>
<text x="0" y="19.3" transform="translate(362.00 119.50) scale(0.1)" font-size="54" font-weight="bold" text-anchor="start" fill="#000" stroke="#000" stroke-width="1.89">H3K27ac</text>
<path d="M358 124.4 L358.00 123.20 L359.61 123.20 L361.22 123.20 L362.83 123.20 L364.44 123.20 L366.05 123.20 L367.66 123.20 L369.27 123.20 L370.88 123.20 L372.49 123.20 L374.10 123.20 L375.71 123.20 L377.32 123.20 L378.93 123.20 L380.54 123.20 L382.15 123.16 L383.76 123.08 L385.37 122.98 L386.98 122.87 L388.59 122.75 L390.20 122.56 L391.81 122.35 L393.42 122.21 L395.03 122.24 L396.64 122.41 L398.25 122.63 L399.86 122.79 L401.47 122.87 L403.08 122.94 L404.69 122.99 L406.31 122.99 L407.92 122.67 L409.53 122.15 L411.14 121.56 L412.75 120.85 L414.36 120.61 L415.97 120.73 L417.58 120.94 L419.19 121.22 L420.80 121.66 L422.41 122.10 L424.02 122.40 L425.63 122.58 L427.24 122.75 L428.85 122.88 L430.46 122.97 L432.07 123.00 L433.68 122.95 L435.29 122.84 L436.90 122.69 L438.51 122.55 L440.12 122.35 L441.73 122.16 L443.34 122.11 L444.95 122.29 L446.56 122.58 L448.17 122.82 L449.78 122.97 L451.39 123.10 L453.00 123.20 L453 124.4 Z" fill="#000"/>
<line x1="394.40" y1="115.10" x2="453.00" y2="115.10" stroke="#000" stroke-width="1.0"/>
<line x1="394.40" y1="115.40" x2="394.40" y2="110.00" stroke="#000" stroke-width="0.9"/>
<line x1="394.00" y1="110.00" x2="399.00" y2="110.00" stroke="#000" stroke-width="0.9"/>
<polygon points="401.6,110 398.2,108.2 398.2,111.8" fill="#000"/>
<rect x="397.30" y="112.50" width="2.70" height="5.50" fill="#000"/>
<text x="0" y="0.0" transform="translate(412.20 112.00) scale(0.1)" font-size="89" font-weight="bold" font-style="italic" text-anchor="start" fill="#000" stroke="#000" stroke-width="3.12">IL7R</text>
<line x1="393.60" y1="124.50" x2="393.60" y2="132.00" stroke="#222" stroke-width="0.7"/>
<line x1="393.60" y1="132.00" x2="350.50" y2="144.00" stroke="#222" stroke-width="0.7"/>
<line x1="393.60" y1="132.00" x2="398.40" y2="143.00" stroke="#222" stroke-width="0.7"/>
<line x1="417.40" y1="124.50" x2="417.40" y2="133.00" stroke="#222" stroke-width="0.7"/>
<line x1="417.40" y1="133.00" x2="410.00" y2="143.00" stroke="#222" stroke-width="0.7"/>
<line x1="417.40" y1="133.00" x2="457.00" y2="143.40" stroke="#222" stroke-width="0.7"/>
<line x1="490.00" y1="165.60" x2="490.00" y2="174.40" stroke="#222" stroke-width="0.7"/>
<line x1="490.00" y1="174.40" x2="469.60" y2="192.40" stroke="#222" stroke-width="0.7"/>
<line x1="490.00" y1="174.40" x2="517.00" y2="192.20" stroke="#222" stroke-width="0.7"/>
<rect x="477.80" y="131.20" width="9.40" height="6.00" fill="#111"/>
<rect x="477.80" y="140.20" width="9.40" height="6.00" fill="#ee2e24" stroke="#111" stroke-width="0.5"/>
<text x="0" y="19.7" transform="translate(489.40 133.80) scale(0.1)" font-size="55" font-weight="bold" text-anchor="start" fill="#000" stroke="#000" stroke-width="1.93">Veh</text>
<text x="0" y="19.7" transform="translate(489.40 143.20) scale(0.1)" font-size="55" font-weight="bold" text-anchor="start" fill="#000" stroke="#000" stroke-width="1.93">JQ1</text>
<text x="0" y="19.7" transform="translate(476.00 162.00) scale(0.1)" font-size="55" font-weight="bold" text-anchor="start" fill="#000" stroke="#000" stroke-width="1.93">Neg Region</text>
<line x1="349.20" y1="143.90" x2="349.20" y2="219.50" stroke="#000" stroke-width="1.3"/>
<line x1="346.60" y1="144.40" x2="349.20" y2="144.40" stroke="#000" stroke-width="0.9"/>
<text x="0" y="19.7" transform="translate(345.80 144.40) scale(0.1)" font-size="55" font-weight="bold" text-anchor="end" fill="#000" stroke="#000" stroke-width="1.93">0.4</text>
<line x1="346.60" y1="163.10" x2="349.20" y2="163.10" stroke="#000" stroke-width="0.9"/>
<text x="0" y="19.7" transform="translate(345.80 163.10) scale(0.1)" font-size="55" font-weight="bold" text-anchor="end" fill="#000" stroke="#000" stroke-width="1.93">0.3</text>
<line x1="346.60" y1="181.80" x2="349.20" y2="181.80" stroke="#000" stroke-width="0.9"/>
<text x="0" y="19.7" transform="translate(345.80 181.80) scale(0.1)" font-size="55" font-weight="bold" text-anchor="end" fill="#000" stroke="#000" stroke-width="1.93">0.2</text>
<line x1="346.60" y1="200.50" x2="349.20" y2="200.50" stroke="#000" stroke-width="0.9"/>
<text x="0" y="19.7" transform="translate(345.80 200.50) scale(0.1)" font-size="55" font-weight="bold" text-anchor="end" fill="#000" stroke="#000" stroke-width="1.93">0.1</text>
<line x1="346.60" y1="219.10" x2="349.20" y2="219.10" stroke="#000" stroke-width="0.9"/>
<text x="0" y="19.7" transform="translate(345.80 219.10) scale(0.1)" font-size="55" font-weight="bold" text-anchor="end" fill="#000" stroke="#000" stroke-width="1.93">0</text>
<line x1="349.20" y1="219.00" x2="518.00" y2="219.00" stroke="#000" stroke-width="1.1"/>
<text x="0" y="23.3" transform="translate(329.70 180.50) rotate(-90) scale(0.1)" font-size="65" font-weight="bold" text-anchor="middle" fill="#000" stroke="#000" stroke-width="2.28">% Input</text>
<rect x="351.00" y="167.40" width="8.40" height="51.60" fill="#000"/>
<line x1="355.20" y1="162.60" x2="355.20" y2="167.40" stroke="#000" stroke-width="0.9"/>
<line x1="352.60" y1="162.60" x2="357.80" y2="162.60" stroke="#000" stroke-width="0.9"/>
<rect x="362.90" y="201.70" width="8.20" height="17.30" fill="#ee2e24" stroke="#111" stroke-width="0.6"/>
<line x1="367.00" y1="198.60" x2="367.00" y2="201.40" stroke="#000" stroke-width="0.9"/>
<line x1="364.40" y1="198.60" x2="369.60" y2="198.60" stroke="#000" stroke-width="0.9"/>
<text x="0" y="21.5" transform="translate(367.00 197.30) scale(0.1)" font-size="60" font-weight="bold" text-anchor="middle" fill="#000" stroke="#000" stroke-width="2.10">**</text>
<rect x="374.40" y="186.00" width="8.60" height="33.00" fill="#000"/>
<line x1="378.70" y1="180.60" x2="378.70" y2="186.00" stroke="#000" stroke-width="0.9"/>
<line x1="376.10" y1="180.60" x2="381.30" y2="180.60" stroke="#000" stroke-width="0.9"/>
<rect x="386.30" y="198.70" width="8.40" height="20.30" fill="#ee2e24" stroke="#111" stroke-width="0.6"/>
<line x1="390.50" y1="196.00" x2="390.50" y2="198.40" stroke="#000" stroke-width="0.9"/>
<line x1="387.90" y1="196.00" x2="393.10" y2="196.00" stroke="#000" stroke-width="0.9"/>
<text x="0" y="21.5" transform="translate(390.50 194.30) scale(0.1)" font-size="60" font-weight="bold" text-anchor="middle" fill="#000" stroke="#000" stroke-width="2.10">*</text>
<rect x="410.40" y="188.00" width="9.00" height="31.00" fill="#000"/>
<line x1="414.90" y1="184.00" x2="414.90" y2="188.00" stroke="#000" stroke-width="0.9"/>
<line x1="412.30" y1="184.00" x2="417.50" y2="184.00" stroke="#000" stroke-width="0.9"/>
<rect x="422.70" y="209.70" width="8.40" height="9.30" fill="#ee2e24" stroke="#111" stroke-width="0.6"/>
<line x1="426.90" y1="207.40" x2="426.90" y2="209.40" stroke="#000" stroke-width="0.9"/>
<line x1="424.30" y1="207.40" x2="429.50" y2="207.40" stroke="#000" stroke-width="0.9"/>
<text x="0" y="21.5" transform="translate(426.90 206.30) scale(0.1)" font-size="60" font-weight="bold" text-anchor="middle" fill="#000" stroke="#000" stroke-width="2.10">**</text>
<rect x="434.40" y="196.00" width="9.00" height="23.00" fill="#000"/>
<line x1="438.90" y1="189.40" x2="438.90" y2="196.00" stroke="#000" stroke-width="0.9"/>
<line x1="436.30" y1="189.40" x2="441.50" y2="189.40" stroke="#000" stroke-width="0.9"/>
<rect x="446.70" y="203.70" width="8.40" height="15.30" fill="#ee2e24" stroke="#111" stroke-width="0.6"/>
<rect x="471.00" y="217.50" width="9.00" height="1.50" fill="#000"/>
<rect x="483.00" y="217.50" width="9.00" height="1.50" fill="#000"/>
<rect x="495.00" y="217.50" width="9.00" height="1.50" fill="#000"/>
<rect x="507.00" y="217.50" width="9.00" height="1.50" fill="#000"/>
<text transform="translate(364.1 225.4) rotate(-30) scale(0.1)" font-size="54" font-weight="bold" text-anchor="end" stroke="#000" stroke-width="1.6">MHH-CALL4</text>
<text transform="translate(387.1 225.4) rotate(-30) scale(0.1)" font-size="54" font-weight="bold" text-anchor="end" stroke="#000" stroke-width="1.6">MUTZ-5</text>
<text transform="translate(422.1 225.4) rotate(-30) scale(0.1)" font-size="54" font-weight="bold" text-anchor="end" stroke="#000" stroke-width="1.6">MHH-CALL4</text>
<text transform="translate(445.1 225.4) rotate(-30) scale(0.1)" font-size="54" font-weight="bold" text-anchor="end" stroke="#000" stroke-width="1.6">MUTZ-5</text>
<text transform="translate(480.1 225.4) rotate(-30) scale(0.1)" font-size="54" font-weight="bold" text-anchor="end" stroke="#000" stroke-width="1.6">MHH-CALL4</text>
<text transform="translate(504.1 225.4) rotate(-30) scale(0.1)" font-size="54" font-weight="bold" text-anchor="end" stroke="#000" stroke-width="1.6">MUTZ-5</text>
<line x1="361.00" y1="219.00" x2="361.00" y2="221.20" stroke="#000" stroke-width="0.8"/>
<line x1="384.70" y1="219.00" x2="384.70" y2="221.20" stroke="#000" stroke-width="0.8"/>
<line x1="420.90" y1="219.00" x2="420.90" y2="221.20" stroke="#000" stroke-width="0.8"/>
<line x1="444.90" y1="219.00" x2="444.90" y2="221.20" stroke="#000" stroke-width="0.8"/>
<line x1="481.50" y1="219.00" x2="481.50" y2="221.20" stroke="#000" stroke-width="0.8"/>
<line x1="505.50" y1="219.00" x2="505.50" y2="221.20" stroke="#000" stroke-width="0.8"/>
<text x="0" y="0.0" transform="translate(-1.20 259.40) scale(0.1)" font-size="115" font-weight="bold" text-anchor="start" fill="#000" stroke="#000" stroke-width="4.03">F</text>
<rect x="24.30" y="253.40" width="9.60" height="6.30" fill="#222"/>
<rect x="24.60" y="262.70" width="9.00" height="5.70" fill="#e81c24" stroke="#a11" stroke-width="0.6"/>
<text x="0" y="19.0" transform="translate(36.00 256.90) scale(0.1)" font-size="53" font-weight="bold" text-anchor="start" fill="#3a2a3a" stroke="#3a2a3a" stroke-width="1.85">0h</text>
<text x="0" y="19.0" transform="translate(36.00 265.80) scale(0.1)" font-size="53" font-weight="bold" text-anchor="start" fill="#8a1020" stroke="#8a1020" stroke-width="1.85">8h</text>
<line x1="20.30" y1="273.30" x2="20.30" y2="338.10" stroke="#111" stroke-width="1.0"/>
<line x1="18.30" y1="273.60" x2="20.30" y2="273.60" stroke="#111" stroke-width="0.9"/>
<text x="0" y="17.9" transform="translate(17.50 273.60) scale(0.1)" font-size="50" font-weight="bold" text-anchor="end" fill="#000" stroke="#000" stroke-width="1.75">1.5</text>
<line x1="18.30" y1="295.00" x2="20.30" y2="295.00" stroke="#111" stroke-width="0.9"/>
<text x="0" y="17.9" transform="translate(17.50 295.00) scale(0.1)" font-size="50" font-weight="bold" text-anchor="end" fill="#000" stroke="#000" stroke-width="1.75">1</text>
<line x1="18.30" y1="316.30" x2="20.30" y2="316.30" stroke="#111" stroke-width="0.9"/>
<text x="0" y="17.9" transform="translate(17.50 316.30) scale(0.1)" font-size="50" font-weight="bold" text-anchor="end" fill="#000" stroke="#000" stroke-width="1.75">0.5</text>
<line x1="18.30" y1="337.60" x2="20.30" y2="337.60" stroke="#111" stroke-width="0.9"/>
<text x="0" y="17.9" transform="translate(17.50 337.60) scale(0.1)" font-size="50" font-weight="bold" text-anchor="end" fill="#000" stroke="#000" stroke-width="1.75">0</text>
<line x1="20.30" y1="337.60" x2="261.00" y2="337.60" stroke="#111" stroke-width="1.2"/>
<text x="0" y="19.7" transform="translate(3.30 302.50) rotate(-90) scale(0.1)" font-size="55" font-weight="bold" text-anchor="middle" fill="#000" stroke="#000" stroke-width="0.55">Fold Expression</text>
<rect x="26.60" y="294.80" width="12.00" height="42.80" fill="#222"/>
<rect x="42.00" y="326.30" width="10.20" height="11.30" fill="#e81c24" stroke="#400" stroke-width="0.6"/>
<line x1="47.10" y1="323.40" x2="47.10" y2="326.00" stroke="#400" stroke-width="0.8"/>
<line x1="45.30" y1="323.40" x2="48.90" y2="323.40" stroke="#400" stroke-width="0.8"/>
<line x1="27.60" y1="341.60" x2="50.20" y2="341.60" stroke="#555" stroke-width="0.9"/>
<text x="0" y="19.7" transform="translate(39.60 345.80) scale(0.1)" font-size="55" font-weight="bold" font-style="italic" text-anchor="middle" fill="#000" stroke="#000" stroke-width="0.55">c-Myc</text>
<rect x="56.40" y="294.80" width="12.00" height="42.80" fill="#222"/>
<rect x="71.90" y="326.30" width="10.20" height="11.30" fill="#e81c24" stroke="#400" stroke-width="0.6"/>
<line x1="77.00" y1="325.30" x2="77.00" y2="326.00" stroke="#400" stroke-width="0.8"/>
<line x1="75.20" y1="325.30" x2="78.80" y2="325.30" stroke="#400" stroke-width="0.8"/>
<line x1="57.40" y1="341.60" x2="80.00" y2="341.60" stroke="#555" stroke-width="0.9"/>
<text x="0" y="19.7" transform="translate(69.40 345.80) scale(0.1)" font-size="55" font-weight="bold" font-style="italic" text-anchor="middle" fill="#000" stroke="#000" stroke-width="0.55">IL7R</text>
<rect x="85.50" y="294.80" width="12.00" height="42.80" fill="#222"/>
<rect x="100.50" y="324.80" width="10.20" height="12.80" fill="#e81c24" stroke="#400" stroke-width="0.6"/>
<line x1="105.60" y1="322.30" x2="105.60" y2="324.50" stroke="#400" stroke-width="0.8"/>
<line x1="103.80" y1="322.30" x2="107.40" y2="322.30" stroke="#400" stroke-width="0.8"/>
<line x1="86.50" y1="341.60" x2="109.10" y2="341.60" stroke="#555" stroke-width="0.9"/>
<text x="0" y="19.7" transform="translate(98.50 345.80) scale(0.1)" font-size="55" font-weight="bold" font-style="italic" text-anchor="middle" fill="#000" stroke="#000" stroke-width="0.55">c-Myc</text>
<rect x="114.70" y="294.80" width="12.00" height="42.80" fill="#222"/>
<rect x="129.10" y="327.30" width="10.20" height="10.30" fill="#e81c24" stroke="#400" stroke-width="0.6"/>
<line x1="134.20" y1="326.40" x2="134.20" y2="327.00" stroke="#400" stroke-width="0.8"/>
<line x1="132.40" y1="326.40" x2="136.00" y2="326.40" stroke="#400" stroke-width="0.8"/>
<line x1="115.70" y1="341.60" x2="138.30" y2="341.60" stroke="#555" stroke-width="0.9"/>
<text x="0" y="19.7" transform="translate(127.70 345.80) scale(0.1)" font-size="55" font-weight="bold" font-style="italic" text-anchor="middle" fill="#000" stroke="#000" stroke-width="0.55">IL7R</text>
<rect x="143.80" y="294.80" width="12.00" height="42.80" fill="#222"/>
<rect x="158.10" y="329.90" width="10.20" height="7.70" fill="#e81c24" stroke="#400" stroke-width="0.6"/>
<line x1="163.20" y1="329.00" x2="163.20" y2="329.60" stroke="#400" stroke-width="0.8"/>
<line x1="161.40" y1="329.00" x2="165.00" y2="329.00" stroke="#400" stroke-width="0.8"/>
<line x1="144.80" y1="341.60" x2="167.40" y2="341.60" stroke="#555" stroke-width="0.9"/>
<text x="0" y="19.7" transform="translate(156.80 345.80) scale(0.1)" font-size="55" font-weight="bold" font-style="italic" text-anchor="middle" fill="#000" stroke="#000" stroke-width="0.55">c-Myc</text>
<rect x="172.20" y="294.80" width="12.00" height="42.80" fill="#222"/>
<rect x="186.80" y="320.80" width="10.20" height="16.80" fill="#e81c24" stroke="#400" stroke-width="0.6"/>
<line x1="191.90" y1="318.30" x2="191.90" y2="320.50" stroke="#400" stroke-width="0.8"/>
<line x1="190.10" y1="318.30" x2="193.70" y2="318.30" stroke="#400" stroke-width="0.8"/>
<line x1="173.20" y1="341.60" x2="195.80" y2="341.60" stroke="#555" stroke-width="0.9"/>
<text x="0" y="19.7" transform="translate(185.20 345.80) scale(0.1)" font-size="55" font-weight="bold" font-style="italic" text-anchor="middle" fill="#000" stroke="#000" stroke-width="0.55">IL7R</text>
<rect x="200.90" y="294.80" width="12.00" height="42.80" fill="#222"/>
<rect x="215.30" y="327.30" width="10.20" height="10.30" fill="#e81c24" stroke="#400" stroke-width="0.6"/>
<line x1="220.40" y1="326.30" x2="220.40" y2="327.00" stroke="#400" stroke-width="0.8"/>
<line x1="218.60" y1="326.30" x2="222.20" y2="326.30" stroke="#400" stroke-width="0.8"/>
<line x1="201.90" y1="341.60" x2="224.50" y2="341.60" stroke="#555" stroke-width="0.9"/>
<text x="0" y="19.7" transform="translate(213.90 345.80) scale(0.1)" font-size="55" font-weight="bold" font-style="italic" text-anchor="middle" fill="#000" stroke="#000" stroke-width="0.55">c-Myc</text>
<rect x="229.30" y="294.80" width="12.00" height="42.80" fill="#222"/>
<rect x="244.30" y="323.20" width="10.20" height="14.40" fill="#e81c24" stroke="#400" stroke-width="0.6"/>
<line x1="249.40" y1="322.20" x2="249.40" y2="322.90" stroke="#400" stroke-width="0.8"/>
<line x1="247.60" y1="322.20" x2="251.20" y2="322.20" stroke="#400" stroke-width="0.8"/>
<line x1="230.30" y1="341.60" x2="252.90" y2="341.60" stroke="#555" stroke-width="0.9"/>
<text x="0" y="19.7" transform="translate(242.30 345.80) scale(0.1)" font-size="55" font-weight="bold" font-style="italic" text-anchor="middle" fill="#000" stroke="#000" stroke-width="0.55">IL7R</text>
<text x="0" y="24.7" transform="translate(54.30 275.20) scale(0.1)" font-size="69" font-weight="bold" text-anchor="middle" fill="#000" stroke="#000" stroke-width="2.42">Reh</text>
<text x="0" y="24.7" transform="translate(114.50 275.20) scale(0.1)" font-size="69" font-weight="bold" text-anchor="middle" fill="#000" stroke="#000" stroke-width="2.42">697</text>
<text x="0" y="24.7" transform="translate(171.00 275.20) scale(0.1)" font-size="69" font-weight="bold" text-anchor="middle" fill="#000" stroke="#000" stroke-width="2.42">CEMO-1</text>
<text x="0" y="24.7" transform="translate(227.40 275.20) scale(0.1)" font-size="69" font-weight="bold" text-anchor="middle" fill="#000" stroke="#000" stroke-width="2.42">SEMK2</text>
<line x1="28.00" y1="280.00" x2="80.00" y2="280.00" stroke="#222" stroke-width="1.3"/>
<line x1="86.00" y1="280.00" x2="138.00" y2="280.00" stroke="#222" stroke-width="1.3"/>
<line x1="143.30" y1="280.00" x2="195.60" y2="280.00" stroke="#222" stroke-width="1.3"/>
<text x="0" y="0.0" transform="translate(265.80 259.60) scale(0.1)" font-size="115" font-weight="bold" text-anchor="start" fill="#000" stroke="#000" stroke-width="4.03">G</text>
<rect x="290.4" y="255.9" width="8.4" height="5.8" fill="#fff" stroke="#8c8c8c" stroke-width="0.7" stroke-dasharray="1 0.8"/>
<rect x="314.8" y="255.9" width="8.4" height="5.8" fill="#fff" stroke="#111" stroke-width="0.9"/>
<rect x="340.0" y="255.9" width="8.4" height="5.8" fill="#f7e2d8" stroke="#d81e28" stroke-width="0.9"/>
<text x="0" y="17.9" transform="translate(301.00 259.40) scale(0.1)" font-size="50" font-weight="bold" text-anchor="start" fill="#000" stroke="#000" stroke-width="1.75">IgG</text>
<text x="0" y="17.9" transform="translate(325.00 259.40) scale(0.1)" font-size="50" font-weight="bold" text-anchor="start" fill="#000" stroke="#000" stroke-width="1.75">Veh</text>
<text x="0" y="17.9" transform="translate(350.60 259.40) scale(0.1)" font-size="50" font-weight="bold" text-anchor="start" fill="#000" stroke="#000" stroke-width="1.75">JQ1</text>
<text x="0" y="21.5" transform="translate(306.00 272.50) scale(0.1)" font-size="60" font-weight="bold" text-anchor="middle" fill="#000" stroke="#000" stroke-width="2.10">Reh</text>
<text x="0" y="21.5" transform="translate(365.60 272.50) scale(0.1)" font-size="60" font-weight="bold" text-anchor="middle" fill="#000" stroke="#000" stroke-width="2.10">697</text>
<text x="0" y="21.5" transform="translate(430.00 272.50) scale(0.1)" font-size="60" font-weight="bold" text-anchor="middle" fill="#000" stroke="#000" stroke-width="2.10">CEMO-1</text>
<text x="0" y="21.5" transform="translate(490.80 272.50) scale(0.1)" font-size="60" font-weight="bold" text-anchor="middle" fill="#000" stroke="#000" stroke-width="2.10">SEMK2</text>
<clipPath id="cg0"><rect x="278" y="276.0" width="58.60000000000002" height="58.0"/></clipPath>
<g clip-path="url(#cg0)">
<path d="M282.65 333.00 L283.17 332.88 L283.68 332.76 L284.20 332.59 L284.71 332.46 L285.23 332.34 L285.74 332.20 L286.26 331.98 L286.77 331.86 L287.29 331.69 L287.80 331.51 L288.32 331.28 L288.83 331.08 L289.35 330.89 L289.86 330.65 L290.38 330.56 L290.89 330.31 L291.41 330.23 L291.92 329.91 L292.44 329.54 L292.96 329.14 L293.47 328.31 L293.99 328.52 L294.50 328.04 L295.02 327.06 L295.53 326.24 L296.05 324.71 L296.56 322.76 L297.08 318.93 L297.59 313.85 L298.11 310.63 L298.62 306.46 L299.14 303.32 L299.65 299.06 L300.17 291.77 L300.68 287.64 L301.20 286.90 L301.71 282.80 L302.23 282.51 L302.74 280.19 L303.26 280.97 L303.78 283.24 L304.29 285.27 L304.81 290.33 L305.32 294.37 L305.84 300.74 L306.35 307.08 L306.87 313.02 L307.38 317.95 L307.90 322.71 L308.41 326.17 L308.93 327.74 L309.44 329.46 L309.96 330.57 L310.47 331.41 L310.99 331.97 L311.50 332.31 L312.02 332.68 L312.53 332.90 L313.05 333.00" fill="none" stroke="#8c8c8c" stroke-width="0.7" stroke-linejoin="round"/>
<path d="M299.05 333.00 L299.49 332.99 L299.94 332.94 L300.38 332.87 L300.82 332.77 L301.26 332.66 L301.71 332.49 L302.15 332.38 L302.59 332.18 L303.04 331.95 L303.48 331.79 L303.92 331.33 L304.36 330.75 L304.81 330.08 L305.25 329.52 L305.69 328.58 L306.13 327.33 L306.58 325.64 L307.02 322.32 L307.46 320.25 L307.91 316.50 L308.35 312.76 L308.79 309.39 L309.23 306.68 L309.68 299.53 L310.12 298.45 L310.56 294.37 L311.01 289.79 L311.45 288.79 L311.89 284.78 L312.33 283.39 L312.78 281.86 L313.22 282.66 L313.66 281.42 L314.11 282.64 L314.55 284.14 L314.99 287.61 L315.43 287.67 L315.88 291.21 L316.32 296.13 L316.76 300.76 L317.20 304.23 L317.65 308.79 L318.09 313.24 L318.53 315.84 L318.98 320.04 L319.42 323.48 L319.86 325.54 L320.30 327.46 L320.75 328.36 L321.19 329.57 L321.63 330.34 L322.08 330.94 L322.52 331.31 L322.96 331.86 L323.40 332.19 L323.85 332.46 L324.29 332.70 L324.73 332.90 L325.17 333.00 L325.17 333.00 L299.05 333.00 Z" fill="#f7e2d8" fill-opacity="0.85" stroke="none"/>
<path d="M299.05 333.00 L299.49 332.99 L299.94 332.94 L300.38 332.87 L300.82 332.77 L301.26 332.66 L301.71 332.49 L302.15 332.38 L302.59 332.18 L303.04 331.95 L303.48 331.79 L303.92 331.33 L304.36 330.75 L304.81 330.08 L305.25 329.52 L305.69 328.58 L306.13 327.33 L306.58 325.64 L307.02 322.32 L307.46 320.25 L307.91 316.50 L308.35 312.76 L308.79 309.39 L309.23 306.68 L309.68 299.53 L310.12 298.45 L310.56 294.37 L311.01 289.79 L311.45 288.79 L311.89 284.78 L312.33 283.39 L312.78 281.86 L313.22 282.66 L313.66 281.42 L314.11 282.64 L314.55 284.14 L314.99 287.61 L315.43 287.67 L315.88 291.21 L316.32 296.13 L316.76 300.76 L317.20 304.23 L317.65 308.79 L318.09 313.24 L318.53 315.84 L318.98 320.04 L319.42 323.48 L319.86 325.54 L320.30 327.46 L320.75 328.36 L321.19 329.57 L321.63 330.34 L322.08 330.94 L322.52 331.31 L322.96 331.86 L323.40 332.19 L323.85 332.46 L324.29 332.70 L324.73 332.90 L325.17 333.00" fill="none" stroke="#d81e28" stroke-width="1.0" stroke-linejoin="round"/>
<path d="M306.62 333.00 L307.04 332.99 L307.45 332.95 L307.87 332.89 L308.28 332.79 L308.69 332.69 L309.11 332.59 L309.52 332.43 L309.93 332.28 L310.35 332.11 L310.76 331.89 L311.17 331.59 L311.59 331.17 L312.00 330.62 L312.41 329.78 L312.83 329.03 L313.24 328.04 L313.66 326.90 L314.07 324.69 L314.48 321.64 L314.90 318.89 L315.31 315.39 L315.72 311.88 L316.14 309.24 L316.55 305.16 L316.96 300.40 L317.38 296.74 L317.79 291.77 L318.20 288.21 L318.62 287.70 L319.03 284.83 L319.45 282.83 L319.86 281.20 L320.27 280.78 L320.69 280.46 L321.10 282.57 L321.51 283.46 L321.93 286.28 L322.34 289.11 L322.75 292.16 L323.17 297.61 L323.58 302.54 L323.99 306.79 L324.41 310.51 L324.82 314.93 L325.24 318.69 L325.65 322.21 L326.06 325.36 L326.48 327.33 L326.89 328.63 L327.30 329.41 L327.72 330.30 L328.13 330.98 L328.54 331.46 L328.96 331.89 L329.37 332.19 L329.78 332.54 L330.20 332.77 L330.61 332.94 L331.02 333.00" fill="none" stroke="#111" stroke-width="1.0" stroke-linejoin="round"/>
</g>
<line x1="278.00" y1="333.30" x2="336.60" y2="333.30" stroke="#111" stroke-width="1.0"/>
<rect x="278" y="276.0" width="58.60000000000002" height="58.0" fill="none" stroke="#1a1a1a" stroke-width="1.05"/>
<clipPath id="cg1"><rect x="339" y="276.0" width="58.19999999999999" height="58.0"/></clipPath>
<g clip-path="url(#cg1)">
<path d="M343.55 333.00 L344.13 332.86 L344.70 332.72 L345.28 332.53 L345.86 332.40 L346.43 332.15 L347.01 332.00 L347.58 331.80 L348.16 331.66 L348.74 331.40 L349.31 331.14 L349.89 331.05 L350.47 330.84 L351.04 330.39 L351.62 330.23 L352.19 329.78 L352.77 329.49 L353.35 329.11 L353.92 328.42 L354.50 328.05 L355.08 327.08 L355.65 326.03 L356.23 323.97 L356.80 320.10 L357.38 316.33 L357.96 313.31 L358.53 309.62 L359.11 304.70 L359.69 298.20 L360.26 294.53 L360.84 292.19 L361.41 289.29 L361.99 284.99 L362.57 283.36 L363.14 285.02 L363.72 286.53 L364.30 286.92 L364.87 289.65 L365.45 291.18 L366.02 293.58 L366.60 297.15 L367.18 301.31 L367.75 305.18 L368.33 311.12 L368.91 313.69 L369.48 316.22 L370.06 319.85 L370.63 322.79 L371.21 325.92 L371.79 327.42 L372.36 328.72 L372.94 329.70 L373.52 330.38 L374.09 330.95 L374.67 331.34 L375.24 331.86 L375.82 332.20 L376.40 332.56 L376.97 332.80 L377.55 333.00" fill="none" stroke="#8c8c8c" stroke-width="0.7" stroke-linejoin="round"/>
<path d="M364.80 333.00 L365.27 332.96 L365.75 332.87 L366.22 332.71 L366.70 332.52 L367.17 332.29 L367.65 332.04 L368.12 331.85 L368.60 331.39 L369.07 330.95 L369.55 330.41 L370.02 329.70 L370.49 328.80 L370.97 327.87 L371.44 326.89 L371.92 324.47 L372.39 321.28 L372.87 318.79 L373.34 315.17 L373.82 311.70 L374.29 308.22 L374.77 306.22 L375.24 302.36 L375.72 296.46 L376.19 292.94 L376.66 289.99 L377.14 287.49 L377.61 286.07 L378.09 284.72 L378.56 282.72 L379.04 282.50 L379.51 282.58 L379.99 283.59 L380.46 284.04 L380.94 285.54 L381.41 287.66 L381.88 289.88 L382.36 291.82 L382.83 295.56 L383.31 299.71 L383.78 304.69 L384.26 308.46 L384.73 311.36 L385.21 315.96 L385.68 318.23 L386.16 321.37 L386.63 324.11 L387.11 326.72 L387.58 328.11 L388.05 328.74 L388.53 329.64 L389.00 330.31 L389.48 330.73 L389.95 331.21 L390.43 331.64 L390.90 332.12 L391.38 332.37 L391.85 332.64 L392.33 332.85 L392.80 333.00 L392.80 333.00 L364.80 333.00 Z" fill="#f7e2d8" fill-opacity="0.85" stroke="none"/>
<path d="M364.80 333.00 L365.27 332.96 L365.75 332.87 L366.22 332.71 L366.70 332.52 L367.17 332.29 L367.65 332.04 L368.12 331.85 L368.60 331.39 L369.07 330.95 L369.55 330.41 L370.02 329.70 L370.49 328.80 L370.97 327.87 L371.44 326.89 L371.92 324.47 L372.39 321.28 L372.87 318.79 L373.34 315.17 L373.82 311.70 L374.29 308.22 L374.77 306.22 L375.24 302.36 L375.72 296.46 L376.19 292.94 L376.66 289.99 L377.14 287.49 L377.61 286.07 L378.09 284.72 L378.56 282.72 L379.04 282.50 L379.51 282.58 L379.99 283.59 L380.46 284.04 L380.94 285.54 L381.41 287.66 L381.88 289.88 L382.36 291.82 L382.83 295.56 L383.31 299.71 L383.78 304.69 L384.26 308.46 L384.73 311.36 L385.21 315.96 L385.68 318.23 L386.16 321.37 L386.63 324.11 L387.11 326.72 L387.58 328.11 L388.05 328.74 L388.53 329.64 L389.00 330.31 L389.48 330.73 L389.95 331.21 L390.43 331.64 L390.90 332.12 L391.38 332.37 L391.85 332.64 L392.33 332.85 L392.80 333.00" fill="none" stroke="#d81e28" stroke-width="1.0" stroke-linejoin="round"/>
<path d="M369.77 333.00 L370.21 332.98 L370.64 332.94 L371.07 332.87 L371.51 332.78 L371.94 332.65 L372.37 332.51 L372.81 332.37 L373.24 332.16 L373.67 331.97 L374.11 331.75 L374.54 331.39 L374.97 330.93 L375.40 330.40 L375.84 329.64 L376.27 329.06 L376.70 327.97 L377.14 327.09 L377.57 325.26 L378.00 322.63 L378.44 318.87 L378.87 315.72 L379.30 312.83 L379.74 308.89 L380.17 307.08 L380.60 301.29 L381.03 298.38 L381.47 293.96 L381.90 291.47 L382.33 287.46 L382.77 286.86 L383.20 284.45 L383.63 282.25 L384.07 281.77 L384.50 281.46 L384.93 280.24 L385.36 281.58 L385.80 282.59 L386.23 285.79 L386.66 288.30 L387.10 292.66 L387.53 297.52 L387.96 302.45 L388.40 307.19 L388.83 312.22 L389.26 315.92 L389.70 320.47 L390.13 323.75 L390.56 326.17 L390.99 327.88 L391.43 329.14 L391.86 329.95 L392.29 330.77 L392.73 331.37 L393.16 331.83 L393.59 332.17 L394.03 332.47 L394.46 332.74 L394.89 332.93 L395.32 333.00" fill="none" stroke="#111" stroke-width="1.0" stroke-linejoin="round"/>
</g>
<line x1="339.00" y1="333.30" x2="397.20" y2="333.30" stroke="#111" stroke-width="1.0"/>
<rect x="339" y="276.0" width="58.19999999999999" height="58.0" fill="none" stroke="#1a1a1a" stroke-width="1.05"/>
<clipPath id="cg2"><rect x="400.7" y="276.0" width="58.0" height="58.0"/></clipPath>
<g clip-path="url(#cg2)">
<path d="M406.95 333.00 L407.47 332.87 L407.99 332.75 L408.50 332.59 L409.02 332.43 L409.54 332.25 L410.06 332.13 L410.57 331.88 L411.09 331.77 L411.61 331.52 L412.13 331.36 L412.65 331.14 L413.16 330.99 L413.68 330.79 L414.20 330.41 L414.72 330.34 L415.23 330.04 L415.75 329.77 L416.27 329.50 L416.79 328.73 L417.31 328.80 L417.82 327.71 L418.34 327.21 L418.86 326.60 L419.38 325.28 L419.89 322.70 L420.41 319.43 L420.93 316.00 L421.45 311.18 L421.97 308.19 L422.48 305.55 L423.00 296.36 L423.52 293.75 L424.04 290.61 L424.56 287.51 L425.07 285.92 L425.59 284.39 L426.11 283.17 L426.63 283.52 L427.14 284.11 L427.66 287.80 L428.18 289.45 L428.70 292.36 L429.22 299.96 L429.73 303.29 L430.25 308.60 L430.77 312.04 L431.29 318.01 L431.80 321.58 L432.32 325.29 L432.84 327.93 L433.36 329.12 L433.88 329.98 L434.39 330.90 L434.91 331.51 L435.43 331.95 L435.95 332.31 L436.46 332.66 L436.98 332.89 L437.50 333.00" fill="none" stroke="#8c8c8c" stroke-width="0.7" stroke-linejoin="round"/>
<path d="M418.55 333.00 L419.09 332.98 L419.64 332.91 L420.18 332.80 L420.73 332.67 L421.27 332.49 L421.82 332.31 L422.36 332.09 L422.91 331.74 L423.45 331.23 L423.99 330.53 L424.54 329.88 L425.08 328.86 L425.63 327.37 L426.17 324.73 L426.72 321.45 L427.26 318.03 L427.81 313.19 L428.35 308.69 L428.90 304.49 L429.44 298.72 L429.98 292.64 L430.53 289.57 L431.07 286.28 L431.62 284.12 L432.16 281.75 L432.71 280.72 L433.25 280.67 L433.80 283.58 L434.34 285.64 L434.88 287.17 L435.43 292.19 L435.97 298.76 L436.52 301.50 L437.06 307.33 L437.61 310.95 L438.15 316.71 L438.70 321.21 L439.24 325.17 L439.79 327.24 L440.33 328.86 L440.87 329.82 L441.42 330.80 L441.96 331.50 L442.51 331.84 L443.05 332.04 L443.60 332.16 L444.14 332.34 L444.69 332.44 L445.23 332.54 L445.77 332.63 L446.32 332.70 L446.86 332.78 L447.41 332.84 L447.95 332.89 L448.50 332.93 L449.04 332.96 L449.59 332.98 L450.13 333.00 L450.67 333.00 L450.67 333.00 L418.55 333.00 Z" fill="#f7e2d8" fill-opacity="0.85" stroke="none"/>
<path d="M418.55 333.00 L419.09 332.98 L419.64 332.91 L420.18 332.80 L420.73 332.67 L421.27 332.49 L421.82 332.31 L422.36 332.09 L422.91 331.74 L423.45 331.23 L423.99 330.53 L424.54 329.88 L425.08 328.86 L425.63 327.37 L426.17 324.73 L426.72 321.45 L427.26 318.03 L427.81 313.19 L428.35 308.69 L428.90 304.49 L429.44 298.72 L429.98 292.64 L430.53 289.57 L431.07 286.28 L431.62 284.12 L432.16 281.75 L432.71 280.72 L433.25 280.67 L433.80 283.58 L434.34 285.64 L434.88 287.17 L435.43 292.19 L435.97 298.76 L436.52 301.50 L437.06 307.33 L437.61 310.95 L438.15 316.71 L438.70 321.21 L439.24 325.17 L439.79 327.24 L440.33 328.86 L440.87 329.82 L441.42 330.80 L441.96 331.50 L442.51 331.84 L443.05 332.04 L443.60 332.16 L444.14 332.34 L444.69 332.44 L445.23 332.54 L445.77 332.63 L446.32 332.70 L446.86 332.78 L447.41 332.84 L447.95 332.89 L448.50 332.93 L449.04 332.96 L449.59 332.98 L450.13 333.00 L450.67 333.00" fill="none" stroke="#d81e28" stroke-width="1.0" stroke-linejoin="round"/>
<path d="M424.10 333.00 L424.51 332.99 L424.92 332.97 L425.33 332.93 L425.74 332.88 L426.16 332.81 L426.57 332.74 L426.98 332.64 L427.39 332.52 L427.80 332.42 L428.21 332.26 L428.62 332.11 L429.03 331.97 L429.44 331.67 L429.85 331.25 L430.27 330.72 L430.68 329.95 L431.09 329.19 L431.50 328.04 L431.91 326.65 L432.32 324.98 L432.73 321.66 L433.14 318.29 L433.55 313.87 L433.96 310.48 L434.38 307.12 L434.79 301.94 L435.20 298.09 L435.61 292.96 L436.02 289.35 L436.43 286.54 L436.84 285.71 L437.25 282.51 L437.66 280.26 L438.07 280.44 L438.49 279.20 L438.90 281.17 L439.31 281.84 L439.72 284.70 L440.13 288.30 L440.54 292.45 L440.95 297.14 L441.36 302.41 L441.77 307.32 L442.18 310.93 L442.60 315.72 L443.01 320.03 L443.42 324.05 L443.83 326.61 L444.24 327.90 L444.65 329.25 L445.06 330.11 L445.47 330.85 L445.88 331.49 L446.29 331.92 L446.71 332.24 L447.12 332.51 L447.53 332.77 L447.94 332.94 L448.35 333.00" fill="none" stroke="#111" stroke-width="1.0" stroke-linejoin="round"/>
</g>
<line x1="400.70" y1="333.30" x2="458.70" y2="333.30" stroke="#111" stroke-width="1.0"/>
<rect x="400.7" y="276.0" width="58.0" height="58.0" fill="none" stroke="#1a1a1a" stroke-width="1.05"/>
<clipPath id="cg3"><rect x="461.8" y="276.0" width="57.80000000000001" height="58.0"/></clipPath>
<g clip-path="url(#cg3)">
<path d="M466.90 333.00 L467.49 332.87 L468.07 332.72 L468.66 332.59 L469.24 332.43 L469.83 332.21 L470.42 332.05 L471.00 331.82 L471.59 331.61 L472.17 331.57 L472.76 331.24 L473.35 331.09 L473.93 330.83 L474.52 330.55 L475.10 330.17 L475.69 329.85 L476.28 329.68 L476.86 329.43 L477.45 328.62 L478.03 328.24 L478.62 327.75 L479.21 327.22 L479.79 325.59 L480.38 323.28 L480.96 320.06 L481.55 316.04 L482.14 313.11 L482.72 310.54 L483.31 305.15 L483.89 299.42 L484.48 297.73 L485.07 294.29 L485.65 292.31 L486.24 291.42 L486.82 287.94 L487.41 287.33 L488.00 286.29 L488.58 289.79 L489.17 291.98 L489.75 293.54 L490.34 295.89 L490.93 300.11 L491.51 303.88 L492.10 308.24 L492.68 311.79 L493.27 315.19 L493.86 319.21 L494.44 322.00 L495.03 324.88 L495.61 327.18 L496.20 328.66 L496.79 329.60 L497.37 330.38 L497.96 330.96 L498.54 331.44 L499.13 331.81 L499.72 332.26 L500.30 332.55 L500.89 332.82 L501.47 333.00" fill="none" stroke="#8c8c8c" stroke-width="0.7" stroke-linejoin="round"/>
<path d="M493.00 333.00 L493.40 332.98 L493.79 332.91 L494.19 332.81 L494.59 332.68 L494.98 332.52 L495.38 332.33 L495.78 332.18 L496.17 331.90 L496.57 331.58 L496.97 331.10 L497.36 330.49 L497.76 329.84 L498.16 329.15 L498.55 327.93 L498.95 326.25 L499.35 324.21 L499.74 321.92 L500.14 317.99 L500.54 315.23 L500.93 312.67 L501.33 308.76 L501.73 302.74 L502.12 300.16 L502.52 295.37 L502.92 292.26 L503.31 289.15 L503.71 288.10 L504.11 286.64 L504.50 284.16 L504.90 282.53 L505.29 282.45 L505.69 285.18 L506.09 285.04 L506.48 286.40 L506.88 289.50 L507.28 290.49 L507.67 293.64 L508.07 296.91 L508.47 302.21 L508.86 306.21 L509.26 310.96 L509.66 313.18 L510.05 316.37 L510.45 319.53 L510.85 323.18 L511.24 325.41 L511.64 327.44 L512.04 328.46 L512.43 329.57 L512.83 330.06 L513.23 330.66 L513.62 331.28 L514.02 331.68 L514.42 332.00 L514.81 332.32 L515.21 332.57 L515.61 332.79 L516.00 332.94 L516.40 333.00 L516.40 333.00 L493.00 333.00 Z" fill="#f7e2d8" fill-opacity="0.85" stroke="none"/>
<path d="M493.00 333.00 L493.40 332.98 L493.79 332.91 L494.19 332.81 L494.59 332.68 L494.98 332.52 L495.38 332.33 L495.78 332.18 L496.17 331.90 L496.57 331.58 L496.97 331.10 L497.36 330.49 L497.76 329.84 L498.16 329.15 L498.55 327.93 L498.95 326.25 L499.35 324.21 L499.74 321.92 L500.14 317.99 L500.54 315.23 L500.93 312.67 L501.33 308.76 L501.73 302.74 L502.12 300.16 L502.52 295.37 L502.92 292.26 L503.31 289.15 L503.71 288.10 L504.11 286.64 L504.50 284.16 L504.90 282.53 L505.29 282.45 L505.69 285.18 L506.09 285.04 L506.48 286.40 L506.88 289.50 L507.28 290.49 L507.67 293.64 L508.07 296.91 L508.47 302.21 L508.86 306.21 L509.26 310.96 L509.66 313.18 L510.05 316.37 L510.45 319.53 L510.85 323.18 L511.24 325.41 L511.64 327.44 L512.04 328.46 L512.43 329.57 L512.83 330.06 L513.23 330.66 L513.62 331.28 L514.02 331.68 L514.42 332.00 L514.81 332.32 L515.21 332.57 L515.61 332.79 L516.00 332.94 L516.40 333.00" fill="none" stroke="#d81e28" stroke-width="1.0" stroke-linejoin="round"/>
<path d="M495.80 333.00 L496.16 332.99 L496.53 332.96 L496.89 332.91 L497.26 332.85 L497.62 332.76 L497.99 332.66 L498.35 332.57 L498.72 332.43 L499.08 332.26 L499.45 332.11 L499.81 331.96 L500.18 331.65 L500.54 331.30 L500.91 330.88 L501.27 330.24 L501.64 329.70 L502.00 328.64 L502.37 327.65 L502.73 326.26 L503.10 324.32 L503.46 321.62 L503.83 319.43 L504.19 315.20 L504.56 312.11 L504.92 309.42 L505.29 305.23 L505.65 301.56 L506.02 297.31 L506.38 293.70 L506.74 289.14 L507.11 288.20 L507.47 285.61 L507.84 283.92 L508.20 282.00 L508.57 282.11 L508.93 279.38 L509.30 281.96 L509.66 282.51 L510.03 286.45 L510.39 289.21 L510.76 293.20 L511.12 298.73 L511.49 305.61 L511.85 309.15 L512.22 313.93 L512.58 318.71 L512.95 323.42 L513.31 326.21 L513.68 328.35 L514.04 329.43 L514.41 330.38 L514.77 331.17 L515.14 331.73 L515.50 332.07 L515.87 332.40 L516.23 332.65 L516.60 332.83 L516.96 332.95 L517.33 333.00" fill="none" stroke="#111" stroke-width="1.0" stroke-linejoin="round"/>
</g>
<line x1="461.80" y1="333.30" x2="519.60" y2="333.30" stroke="#111" stroke-width="1.0"/>
<rect x="461.8" y="276.0" width="57.80000000000001" height="58.0" fill="none" stroke="#1a1a1a" stroke-width="1.05"/>
<text x="0" y="19.0" transform="translate(269.00 325.00) rotate(-90) scale(0.1)" font-size="53" font-weight="bold" text-anchor="middle" fill="#000" stroke="#000" stroke-width="1.85">Counts</text>
<line x1="274.60" y1="337.50" x2="274.60" y2="320.00" stroke="#000" stroke-width="1.0"/>
<line x1="274.10" y1="337.00" x2="292.00" y2="337.00" stroke="#000" stroke-width="1.0"/>
<polygon points="274.6,316.2 272.5,321.2 276.7,321.2" fill="#000"/>
<polygon points="295.2,337 290.2,334.9 290.2,339.1" fill="#000"/>
<text x="0" y="17.9" transform="translate(278.60 344.60) scale(0.1)" font-size="50" font-weight="bold" text-anchor="start" fill="#000" stroke="#000" stroke-width="1.75">IL7R</text>
</g>
</svg>
</body>
</html>
